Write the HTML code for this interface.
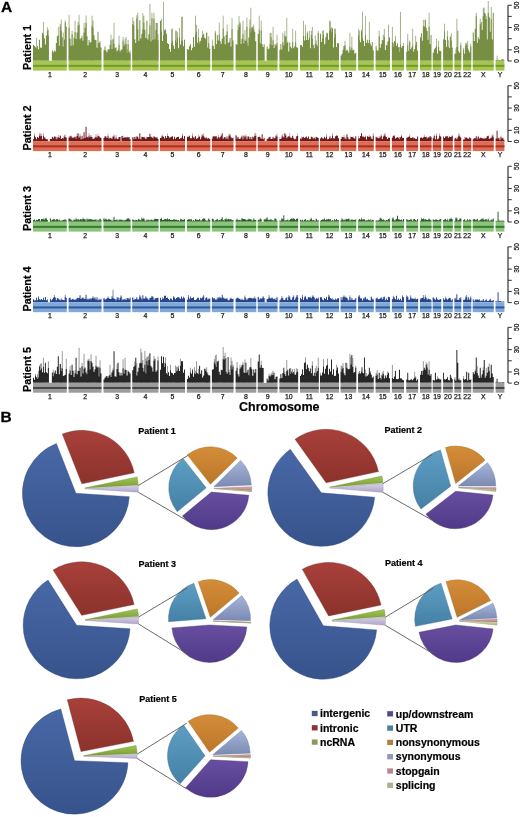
<!DOCTYPE html><html><head><meta charset="utf-8"><title>Figure</title><style>
html,body{margin:0;padding:0;background:#fff;overflow:hidden;width:520px;height:817px;}
svg{display:block;filter:blur(0.4px);}
text{font-family:"Liberation Sans",sans-serif;}
.cl{font-size:6.9px;text-anchor:middle;fill:#1a1a1a;stroke:#1a1a1a;stroke-width:0.25px;}
.al{font-size:6.6px;text-anchor:middle;fill:#1a1a1a;stroke:#1a1a1a;stroke-width:0.25px;}
.pl{font-size:10.8px;font-weight:bold;text-anchor:middle;fill:#000;stroke:#000;stroke-width:0.2px;}
.pt{font-size:9px;font-weight:bold;fill:#000;stroke:#000;stroke-width:0.2px;}
.lg{font-size:10.5px;font-weight:bold;fill:#000;stroke:#000;stroke-width:0.2px;}
.big{font-size:15.5px;font-weight:bold;fill:#000;stroke:#000;stroke-width:0.3px;}
.xl{font-size:12.5px;font-weight:bold;fill:#000;text-anchor:middle;stroke:#000;stroke-width:0.2px;}
</style></head><body>
<svg width="520" height="817" viewBox="0 0 520 817">
<rect width="520" height="817" fill="#fff"/>
<defs><linearGradient id="g_blue" x1="0" y1="0" x2="0" y2="1"><stop offset="0" stop-color="#4868a6"/><stop offset="1" stop-color="#37538c"/></linearGradient><linearGradient id="g_red" x1="0" y1="0" x2="0" y2="1"><stop offset="0" stop-color="#a8403a"/><stop offset="1" stop-color="#8c322c"/></linearGradient><linearGradient id="g_green" x1="0" y1="0" x2="0" y2="1"><stop offset="0" stop-color="#a0c455"/><stop offset="1" stop-color="#7c9c35"/></linearGradient><linearGradient id="g_lav" x1="0" y1="0" x2="0" y2="1"><stop offset="0" stop-color="#d6d0e6"/><stop offset="1" stop-color="#aea6c6"/></linearGradient><linearGradient id="g_purple" x1="0" y1="0" x2="0" y2="1"><stop offset="0" stop-color="#684ea0"/><stop offset="1" stop-color="#503a88"/></linearGradient><linearGradient id="g_teal" x1="0" y1="0" x2="0" y2="1"><stop offset="0" stop-color="#5e9ec4"/><stop offset="1" stop-color="#4580a6"/></linearGradient><linearGradient id="g_orange" x1="0" y1="0" x2="0" y2="1"><stop offset="0" stop-color="#d48d38"/><stop offset="1" stop-color="#bb762a"/></linearGradient><linearGradient id="g_syn" x1="0" y1="0" x2="0" y2="1"><stop offset="0" stop-color="#a6b4da"/><stop offset="1" stop-color="#7b8ab2"/></linearGradient><linearGradient id="g_stop" x1="0" y1="0" x2="0" y2="1"><stop offset="0" stop-color="#d8b0b0"/><stop offset="1" stop-color="#b08080"/></linearGradient><linearGradient id="g_splice" x1="0" y1="0" x2="0" y2="1"><stop offset="0" stop-color="#dde2b0"/><stop offset="1" stop-color="#aab084"/></linearGradient></defs>
<text x="0.9" y="12.1" class="big">A</text>
<path d="M35.98 38.00h0.99v22.70h-0.99zM42.93 21.70h0.99v39.00h-0.99zM46.90 27.36h0.99v33.34h-0.99zM47.89 29.85h0.99v30.85h-0.99zM57.82 26.70h0.99v34.00h-0.99zM59.80 23.78h0.99v36.92h-0.99zM60.79 19.44h0.99v41.26h-0.99zM62.78 32.55h0.99v28.15h-0.99zM64.76 20.57h0.99v40.13h-0.99zM68.60 14.78h1.00v45.92h-1.00zM71.59 30.70h1.00v30.00h-1.00zM74.58 20.70h1.00v40.00h-1.00zM77.57 22.08h1.00v38.62h-1.00zM78.57 14.70h1.00v46.00h-1.00zM83.55 22.70h1.00v38.00h-1.00zM85.55 15.56h1.00v45.14h-1.00zM91.53 15.68h1.00v45.02h-1.00zM92.53 20.70h1.00v40.00h-1.00zM110.53 34.75h1.00v25.95h-1.00zM112.53 38.41h1.00v22.29h-1.00zM113.54 22.70h1.00v38.00h-1.00zM118.56 35.70h1.00v25.00h-1.00zM122.57 37.02h1.00v23.68h-1.00zM124.58 38.70h1.00v22.00h-1.00zM125.58 36.64h1.00v24.06h-1.00zM126.59 49.21h1.00v11.49h-1.00zM127.59 39.86h1.00v20.84h-1.00zM129.60 50.48h1.00v10.22h-1.00zM132.25 17.14h1.01v43.56h-1.01zM133.26 21.07h1.01v39.63h-1.01zM136.29 15.21h1.01v45.49h-1.01zM137.30 12.70h1.01v48.00h-1.01zM142.35 13.34h1.01v47.36h-1.01zM143.36 15.70h1.01v45.00h-1.01zM149.41 3.70h1.01v57.00h-1.01zM151.43 12.70h1.01v48.00h-1.01zM153.45 12.70h1.01v48.00h-1.01zM155.47 22.70h1.01v38.00h-1.01zM156.48 22.94h1.01v37.76h-1.01zM157.49 33.76h1.01v26.94h-1.01zM161.00 18.70h1.00v42.00h-1.00zM163.00 1.70h1.00v59.00h-1.00zM164.00 29.63h1.00v31.07h-1.00zM165.00 29.09h1.00v31.61h-1.00zM166.00 33.22h1.00v27.48h-1.00zM171.00 28.70h1.00v32.00h-1.00zM172.00 28.70h1.00v32.00h-1.00zM175.00 30.70h1.00v30.00h-1.00zM176.00 30.70h1.00v30.00h-1.00zM177.00 32.22h1.00v28.48h-1.00zM179.00 27.92h1.00v32.78h-1.00zM181.00 16.70h1.00v44.00h-1.00zM182.00 16.70h1.00v44.00h-1.00zM195.02 15.70h1.02v45.00h-1.02zM196.04 24.83h1.02v35.87h-1.02zM198.07 28.70h1.02v32.00h-1.02zM199.08 41.60h1.02v19.10h-1.02zM202.13 30.70h1.02v30.00h-1.02zM206.19 32.50h1.02v28.20h-1.02zM208.22 36.35h1.02v24.35h-1.02zM211.90 39.44h0.98v21.26h-0.98zM214.85 30.70h0.98v30.00h-0.98zM218.77 22.70h0.98v38.00h-0.98zM222.70 15.70h0.98v45.00h-0.98zM226.63 24.70h0.98v36.00h-0.98zM231.54 17.93h0.98v42.77h-0.98zM237.57 24.84h0.98v35.86h-0.98zM238.55 16.05h0.98v44.65h-0.98zM239.53 22.26h0.98v38.44h-0.98zM242.48 20.70h0.98v40.00h-0.98zM244.45 29.96h0.98v30.74h-0.98zM246.42 17.38h0.98v43.32h-0.98zM247.40 43.02h0.98v17.68h-0.98zM249.37 19.42h0.98v41.28h-0.98zM250.35 7.70h0.98v53.00h-0.98zM251.33 27.10h0.98v33.60h-0.98zM252.32 26.46h0.98v34.24h-0.98zM253.30 24.53h0.98v36.17h-0.98zM258.74 15.70h0.99v45.00h-0.99zM260.71 20.70h0.99v40.00h-0.99zM269.60 32.70h0.99v28.00h-0.99zM270.59 33.03h0.99v27.67h-0.99zM272.56 26.70h0.99v34.00h-0.99zM276.51 34.85h0.99v25.85h-0.99zM282.35 32.70h0.98v28.00h-0.98zM284.32 31.05h0.98v29.65h-0.98zM285.31 36.30h0.98v24.40h-0.98zM286.29 17.70h0.98v43.00h-0.98zM292.19 28.70h0.98v32.00h-0.98zM295.15 30.70h0.98v30.00h-0.98zM302.96 20.70h0.99v40.00h-0.99zM304.93 24.70h0.99v36.00h-0.99zM306.91 31.59h0.99v29.11h-0.99zM308.88 30.70h0.99v30.00h-0.99zM310.86 31.11h0.99v29.59h-0.99zM311.84 26.70h0.99v34.00h-0.99zM314.80 35.16h0.99v25.54h-0.99zM315.79 40.58h0.99v20.12h-0.99zM317.76 31.01h0.99v29.69h-0.99zM322.00 30.70h1.00v30.00h-1.00zM323.00 30.35h1.00v30.35h-1.00zM325.00 37.31h1.00v23.39h-1.00zM326.00 32.70h1.00v28.00h-1.00zM327.00 32.70h1.00v28.00h-1.00zM329.00 20.59h1.00v40.11h-1.00zM330.00 21.19h1.00v39.51h-1.00zM331.00 27.27h1.00v33.43h-1.00zM334.00 28.70h1.00v32.00h-1.00zM335.00 28.70h1.00v32.00h-1.00zM343.53 46.00h0.98v14.70h-0.98zM344.51 40.70h0.98v20.00h-0.98zM349.40 32.70h0.98v28.00h-0.98zM351.36 36.70h0.98v24.00h-0.98zM358.10 28.80h0.98v31.90h-0.98zM359.08 30.70h0.98v30.00h-0.98zM361.03 29.76h0.98v30.94h-0.98zM362.01 11.70h0.98v49.00h-0.98zM364.95 15.70h0.98v45.00h-0.98zM368.86 21.70h0.98v39.00h-0.98zM378.69 30.70h1.03v30.00h-1.03zM382.80 34.70h1.03v26.00h-1.03zM383.83 28.81h1.03v31.89h-1.03zM386.91 41.77h1.03v18.93h-1.03zM387.94 24.70h1.03v36.00h-1.03zM391.90 26.70h1.01v34.00h-1.01zM392.91 43.20h1.01v17.50h-1.01zM394.92 35.70h1.01v25.00h-1.01zM398.96 47.08h1.01v13.62h-1.01zM399.97 11.70h1.01v49.00h-1.01zM402.99 42.98h1.01v17.72h-1.01zM407.24 33.70h0.99v27.00h-0.99zM409.21 40.46h0.99v20.24h-0.99zM412.18 28.70h0.99v32.00h-0.99zM415.14 35.70h0.99v25.00h-0.99zM422.88 19.70h0.96v41.00h-0.96zM424.79 19.42h0.96v41.28h-0.96zM428.62 12.70h0.96v48.00h-0.96zM435.94 38.70h1.06v22.00h-1.06zM438.06 40.70h1.06v20.00h-1.06zM444.06 23.70h0.96v37.00h-0.96zM446.96 30.70h0.96v30.00h-0.96zM447.93 40.27h0.96v20.43h-0.96zM449.86 36.33h0.96v24.37h-0.96zM450.82 32.93h0.96v27.77h-0.96zM455.38 48.60h0.98v12.10h-0.98zM456.36 18.70h0.98v42.00h-0.98zM460.27 42.51h0.98v18.19h-0.98zM463.10 47.74h1.02v12.96h-1.02zM465.14 42.70h1.02v18.00h-1.02zM466.16 43.25h1.02v17.45h-1.02zM467.18 40.70h1.02v20.00h-1.02zM470.23 43.84h1.02v16.86h-1.02zM475.75 12.70h1.00v48.00h-1.00zM479.75 18.70h1.00v42.00h-1.00zM482.75 7.70h1.00v53.00h-1.00zM483.75 7.70h1.00v53.00h-1.00zM485.75 15.70h1.00v45.00h-1.00zM487.75 0.97h1.00v59.73h-1.00zM488.75 16.70h1.00v44.00h-1.00zM490.75 6.70h1.00v54.00h-1.00zM496.58 55.70h0.98v5.00h-0.98zM501.47 58.99h0.98v1.71h-0.98zM502.44 59.04h0.98v1.66h-0.98z" fill="#a8b48e"/>
<path d="M33.00 44.97h0.99v15.73h-0.99zM33.99 45.93h0.99v14.77h-0.99zM34.99 47.22h0.99v13.48h-0.99zM35.98 48.25h0.99v12.45h-0.99zM36.97 45.91h0.99v14.79h-0.99zM37.96 49.30h0.99v11.40h-0.99zM38.96 39.82h0.99v20.88h-0.99zM39.95 47.42h0.99v13.28h-0.99zM40.94 47.85h0.99v12.85h-0.99zM41.93 32.70h0.99v28.00h-0.99zM42.93 34.86h0.99v25.84h-0.99zM43.92 38.20h0.99v22.50h-0.99zM44.91 44.45h0.99v16.25h-0.99zM45.90 35.58h0.99v25.12h-0.99zM46.90 30.87h0.99v29.83h-0.99zM47.89 35.59h0.99v25.11h-0.99zM51.86 50.46h0.99v10.24h-0.99zM52.85 52.18h0.99v8.52h-0.99zM53.85 50.45h0.99v10.25h-0.99zM54.84 51.40h0.99v9.30h-0.99zM55.83 43.02h0.99v17.68h-0.99zM56.82 36.16h0.99v24.54h-0.99zM57.82 35.36h0.99v25.34h-0.99zM58.81 45.82h0.99v14.88h-0.99zM59.80 26.35h0.99v34.35h-0.99zM60.79 30.70h0.99v30.00h-0.99zM61.79 37.28h0.99v23.42h-0.99zM62.78 46.50h0.99v14.20h-0.99zM63.77 39.57h0.99v21.13h-0.99zM64.76 22.44h0.99v38.26h-0.99zM65.76 26.69h0.99v34.01h-0.99zM68.60 27.68h1.00v33.02h-1.00zM69.60 38.87h1.00v21.83h-1.00zM70.59 45.70h1.00v15.00h-1.00zM71.59 34.36h1.00v26.34h-1.00zM72.59 45.13h1.00v15.57h-1.00zM73.58 37.78h1.00v22.92h-1.00zM74.58 31.91h1.00v28.79h-1.00zM75.58 39.08h1.00v21.62h-1.00zM76.58 32.51h1.00v28.19h-1.00zM77.57 25.86h1.00v34.84h-1.00zM78.57 24.70h1.00v36.00h-1.00zM79.57 39.35h1.00v21.35h-1.00zM80.56 37.96h1.00v22.74h-1.00zM81.56 35.83h1.00v24.87h-1.00zM82.56 40.77h1.00v19.93h-1.00zM83.55 32.51h1.00v28.19h-1.00zM84.55 27.70h1.00v33.00h-1.00zM85.55 22.85h1.00v37.85h-1.00zM86.55 36.21h1.00v24.49h-1.00zM87.54 45.60h1.00v15.10h-1.00zM88.54 39.91h1.00v20.79h-1.00zM89.54 42.41h1.00v18.29h-1.00zM90.53 42.05h1.00v18.65h-1.00zM91.53 25.82h1.00v34.88h-1.00zM92.53 27.62h1.00v33.08h-1.00zM93.52 35.36h1.00v25.34h-1.00zM94.52 39.82h1.00v20.88h-1.00zM95.52 40.13h1.00v20.57h-1.00zM96.52 47.83h1.00v12.87h-1.00zM97.51 31.70h1.00v29.00h-1.00zM98.51 42.89h1.00v17.81h-1.00zM99.51 41.29h1.00v19.41h-1.00zM100.50 47.51h1.00v13.19h-1.00zM103.50 49.97h1.00v10.73h-1.00zM104.50 46.54h1.00v14.16h-1.00zM105.51 50.62h1.00v10.08h-1.00zM106.51 52.16h1.00v8.54h-1.00zM107.51 49.15h1.00v11.55h-1.00zM108.52 49.41h1.00v11.29h-1.00zM109.52 44.68h1.00v16.02h-1.00zM110.53 40.15h1.00v20.55h-1.00zM111.53 48.97h1.00v11.73h-1.00zM112.53 39.73h1.00v20.97h-1.00zM113.54 43.92h1.00v16.78h-1.00zM114.54 48.29h1.00v12.41h-1.00zM115.54 47.17h1.00v13.53h-1.00zM116.55 51.32h1.00v9.38h-1.00zM117.55 49.85h1.00v10.85h-1.00zM118.56 44.72h1.00v15.98h-1.00zM119.56 51.53h1.00v9.17h-1.00zM120.56 49.76h1.00v10.94h-1.00zM121.57 49.44h1.00v11.26h-1.00zM122.57 40.72h1.00v19.98h-1.00zM123.57 45.67h1.00v15.03h-1.00zM124.58 43.67h1.00v17.03h-1.00zM125.58 44.12h1.00v16.58h-1.00zM126.59 52.96h1.00v7.74h-1.00zM127.59 44.32h1.00v16.38h-1.00zM128.59 51.66h1.00v9.04h-1.00zM129.60 53.55h1.00v7.15h-1.00zM132.25 23.90h1.01v36.80h-1.01zM133.26 25.29h1.01v35.41h-1.01zM134.27 39.31h1.01v21.39h-1.01zM135.28 42.89h1.01v17.81h-1.01zM136.29 18.56h1.01v42.14h-1.01zM137.30 29.34h1.01v31.36h-1.01zM138.31 40.77h1.01v19.93h-1.01zM139.32 20.32h1.01v40.38h-1.01zM140.33 38.59h1.01v22.11h-1.01zM141.34 34.07h1.01v26.63h-1.01zM142.35 29.51h1.01v31.19h-1.01zM143.36 22.42h1.01v38.28h-1.01zM144.37 29.77h1.01v30.93h-1.01zM145.38 37.91h1.01v22.79h-1.01zM146.38 20.70h1.01v40.00h-1.01zM147.39 39.55h1.01v21.15h-1.01zM148.40 34.13h1.01v26.57h-1.01zM149.41 25.15h1.01v35.55h-1.01zM150.42 41.61h1.01v19.09h-1.01zM151.43 18.22h1.01v42.48h-1.01zM152.44 39.80h1.01v20.90h-1.01zM153.45 18.74h1.01v41.96h-1.01zM154.46 39.21h1.01v21.49h-1.01zM155.47 30.32h1.01v30.38h-1.01zM156.48 23.01h1.01v37.69h-1.01zM157.49 40.36h1.01v20.34h-1.01zM160.00 20.65h1.00v40.05h-1.00zM161.00 31.55h1.00v29.15h-1.00zM162.00 40.91h1.00v19.79h-1.00zM163.00 34.93h1.00v25.77h-1.00zM164.00 30.77h1.00v29.93h-1.00zM165.00 30.15h1.00v30.55h-1.00zM166.00 34.57h1.00v26.13h-1.00zM167.00 43.26h1.00v17.44h-1.00zM168.00 44.05h1.00v16.65h-1.00zM169.00 48.94h1.00v11.76h-1.00zM170.00 51.68h1.00v9.02h-1.00zM171.00 43.06h1.00v17.64h-1.00zM172.00 40.75h1.00v19.95h-1.00zM173.00 45.52h1.00v15.18h-1.00zM174.00 48.69h1.00v12.01h-1.00zM175.00 40.57h1.00v20.13h-1.00zM176.00 42.85h1.00v17.85h-1.00zM177.00 37.92h1.00v22.78h-1.00zM178.00 48.19h1.00v12.51h-1.00zM179.00 37.41h1.00v23.29h-1.00zM180.00 44.48h1.00v16.22h-1.00zM181.00 40.64h1.00v20.06h-1.00zM182.00 40.64h1.00v20.06h-1.00zM183.00 46.25h1.00v14.45h-1.00zM184.00 39.66h1.00v21.04h-1.00zM186.90 49.04h1.02v11.66h-1.02zM187.92 49.67h1.02v11.03h-1.02zM188.93 46.25h1.02v14.45h-1.02zM189.95 44.16h1.02v16.54h-1.02zM190.96 50.16h1.02v10.54h-1.02zM191.98 47.80h1.02v12.90h-1.02zM192.99 36.90h1.02v23.80h-1.02zM194.01 46.77h1.02v13.93h-1.02zM195.02 34.49h1.02v26.21h-1.02zM196.04 31.96h1.02v28.74h-1.02zM197.05 42.67h1.02v18.03h-1.02zM198.07 37.47h1.02v23.23h-1.02zM199.08 43.73h1.02v16.97h-1.02zM200.10 40.76h1.02v19.94h-1.02zM201.11 37.75h1.02v22.95h-1.02zM202.13 35.26h1.02v25.44h-1.02zM203.14 33.74h1.02v26.96h-1.02zM204.16 37.87h1.02v22.83h-1.02zM205.17 38.68h1.02v22.02h-1.02zM206.19 32.70h1.02v28.00h-1.02zM207.20 47.61h1.02v13.09h-1.02zM208.22 43.26h1.02v17.44h-1.02zM209.23 48.69h1.02v12.01h-1.02zM211.90 45.71h0.98v14.99h-0.98zM212.88 45.78h0.98v14.92h-0.98zM213.86 49.01h0.98v11.69h-0.98zM214.85 32.75h0.98v27.95h-0.98zM215.83 44.30h0.98v16.40h-0.98zM216.81 35.05h0.98v25.65h-0.98zM217.79 40.61h0.98v20.09h-0.98zM218.77 34.59h0.98v26.11h-0.98zM219.75 41.17h0.98v19.53h-0.98zM220.74 43.79h0.98v16.91h-0.98zM221.72 38.79h0.98v21.91h-0.98zM222.70 28.59h0.98v32.11h-0.98zM223.68 36.51h0.98v24.19h-0.98zM224.66 44.30h0.98v16.40h-0.98zM225.65 35.01h0.98v25.69h-0.98zM226.63 31.52h0.98v29.18h-0.98zM227.61 42.90h0.98v17.80h-0.98zM228.59 42.00h0.98v18.70h-0.98zM229.57 38.01h0.98v22.69h-0.98zM230.55 46.44h0.98v14.26h-0.98zM231.54 29.02h0.98v31.68h-0.98zM232.52 40.53h0.98v20.17h-0.98zM235.60 43.91h0.98v16.79h-0.98zM236.58 44.77h0.98v15.93h-0.98zM237.57 30.15h0.98v30.55h-0.98zM238.55 27.12h0.98v33.58h-0.98zM239.53 23.83h0.98v36.87h-0.98zM240.52 44.03h0.98v16.67h-0.98zM241.50 38.64h0.98v22.06h-0.98zM242.48 33.70h0.98v27.00h-0.98zM243.47 43.28h0.98v17.42h-0.98zM244.45 39.50h0.98v21.20h-0.98zM245.43 40.98h0.98v19.72h-0.98zM246.42 26.66h0.98v34.04h-0.98zM247.40 46.10h0.98v14.60h-0.98zM248.38 37.61h0.98v23.09h-0.98zM249.37 28.31h0.98v32.39h-0.98zM250.35 32.29h0.98v28.41h-0.98zM251.33 28.71h0.98v31.99h-0.98zM252.32 27.51h0.98v33.19h-0.98zM253.30 29.74h0.98v30.96h-0.98zM254.28 31.67h0.98v29.03h-0.98zM255.27 41.19h0.98v19.51h-0.98zM257.75 34.01h0.99v26.69h-0.99zM258.74 29.81h0.99v30.89h-0.99zM259.73 43.32h0.99v17.38h-0.99zM260.71 30.87h0.99v29.83h-0.99zM261.70 44.15h0.99v16.55h-0.99zM262.69 47.03h0.99v13.67h-0.99zM263.68 44.32h0.99v16.38h-0.99zM266.64 46.57h0.99v14.13h-0.99zM267.62 49.24h0.99v11.46h-0.99zM268.61 48.58h0.99v12.12h-0.99zM269.60 44.20h0.99v16.50h-0.99zM270.59 37.40h0.99v23.30h-0.99zM271.57 44.98h0.99v15.72h-0.99zM272.56 40.24h0.99v20.46h-0.99zM273.55 47.93h0.99v12.77h-0.99zM274.54 44.01h0.99v16.69h-0.99zM275.52 45.42h0.99v15.28h-0.99zM276.51 43.31h0.99v17.39h-0.99zM279.40 49.72h0.98v10.98h-0.98zM280.38 44.03h0.98v16.67h-0.98zM281.37 49.39h0.98v11.31h-0.98zM282.35 41.97h0.98v18.73h-0.98zM283.34 45.25h0.98v15.45h-0.98zM284.32 35.54h0.98v25.16h-0.98zM285.31 37.21h0.98v23.49h-0.98zM286.29 42.91h0.98v17.79h-0.98zM287.27 41.78h0.98v18.92h-0.98zM288.26 51.62h0.98v9.08h-0.98zM289.24 42.60h0.98v18.10h-0.98zM290.23 46.70h0.98v14.00h-0.98zM291.21 48.28h0.98v12.42h-0.98zM292.19 42.03h0.98v18.67h-0.98zM293.18 48.18h0.98v12.52h-0.98zM294.16 46.35h0.98v14.35h-0.98zM295.15 42.19h0.98v18.51h-0.98zM296.13 47.27h0.98v13.43h-0.98zM297.12 47.69h0.98v13.01h-0.98zM300.00 44.89h0.99v15.81h-0.99zM300.99 45.37h0.99v15.33h-0.99zM301.97 46.72h0.99v13.98h-0.99zM302.96 35.91h0.99v24.79h-0.99zM303.95 40.42h0.99v20.28h-0.99zM304.93 35.69h0.99v25.01h-0.99zM305.92 40.06h0.99v20.64h-0.99zM306.91 33.31h0.99v27.39h-0.99zM307.89 39.91h0.99v20.79h-0.99zM308.88 37.47h0.99v23.23h-0.99zM309.87 48.14h0.99v12.56h-0.99zM310.86 35.09h0.99v25.61h-0.99zM311.84 38.80h0.99v21.90h-0.99zM312.83 45.09h0.99v15.61h-0.99zM313.82 48.29h0.99v12.41h-0.99zM314.80 44.11h0.99v16.59h-0.99zM315.79 44.41h0.99v16.29h-0.99zM316.78 45.83h0.99v14.87h-0.99zM317.76 33.08h0.99v27.62h-0.99zM320.00 33.72h1.00v26.98h-1.00zM321.00 42.12h1.00v18.58h-1.00zM322.00 38.47h1.00v22.23h-1.00zM323.00 34.59h1.00v26.11h-1.00zM324.00 44.26h1.00v16.44h-1.00zM325.00 43.44h1.00v17.26h-1.00zM326.00 36.69h1.00v24.01h-1.00zM327.00 33.81h1.00v26.89h-1.00zM328.00 39.80h1.00v20.90h-1.00zM329.00 30.68h1.00v30.02h-1.00zM330.00 28.68h1.00v32.02h-1.00zM331.00 32.32h1.00v28.38h-1.00zM332.00 28.18h1.00v32.52h-1.00zM333.00 47.49h1.00v13.21h-1.00zM334.00 37.58h1.00v23.12h-1.00zM335.00 33.91h1.00v26.79h-1.00zM336.00 46.98h1.00v13.72h-1.00zM337.00 43.24h1.00v17.46h-1.00zM338.00 43.17h1.00v17.53h-1.00zM340.60 55.43h0.98v5.27h-0.98zM341.58 53.81h0.98v6.89h-0.98zM342.56 49.73h0.98v10.97h-0.98zM343.53 46.31h0.98v14.39h-0.98zM344.51 45.23h0.98v15.47h-0.98zM345.49 50.78h0.98v9.92h-0.98zM346.47 49.43h0.98v11.27h-0.98zM347.45 50.82h0.98v9.88h-0.98zM348.43 52.98h0.98v7.72h-0.98zM349.40 46.71h0.98v13.99h-0.98zM350.38 50.15h0.98v10.55h-0.98zM351.36 47.76h0.98v12.94h-0.98zM352.34 50.18h0.98v10.52h-0.98zM353.32 49.84h0.98v10.86h-0.98zM354.29 53.76h0.98v6.94h-0.98zM355.27 52.78h0.98v7.92h-0.98zM358.10 35.25h0.98v25.45h-0.98zM359.08 40.30h0.98v20.40h-0.98zM360.06 42.14h0.98v18.56h-0.98zM361.03 31.18h0.98v29.52h-0.98zM362.01 38.13h0.98v22.57h-0.98zM362.99 40.76h0.98v19.94h-0.98zM363.97 46.05h0.98v14.65h-0.98zM364.95 35.27h0.98v25.43h-0.98zM365.93 42.78h0.98v17.92h-0.98zM366.90 39.70h0.98v21.00h-0.98zM367.88 42.95h0.98v17.75h-0.98zM368.86 39.91h0.98v20.79h-0.98zM369.84 43.55h0.98v17.15h-0.98zM370.82 45.67h0.98v15.03h-0.98zM371.79 42.10h0.98v18.60h-0.98zM372.77 50.18h0.98v10.52h-0.98zM375.60 46.07h1.03v14.63h-1.03zM376.63 50.34h1.03v10.36h-1.03zM377.66 50.60h1.03v10.10h-1.03zM378.69 36.52h1.03v24.18h-1.03zM379.71 47.64h1.03v13.06h-1.03zM380.74 44.09h1.03v16.61h-1.03zM381.77 40.06h1.03v20.64h-1.03zM382.80 40.41h1.03v20.29h-1.03zM383.83 37.11h1.03v23.59h-1.03zM384.86 50.08h1.03v10.62h-1.03zM385.89 45.11h1.03v15.59h-1.03zM386.91 45.52h1.03v15.18h-1.03zM387.94 41.01h1.03v19.69h-1.03zM388.97 37.48h1.03v23.22h-1.03zM391.90 42.25h1.01v18.45h-1.01zM392.91 46.74h1.01v13.96h-1.01zM393.92 41.11h1.01v19.59h-1.01zM394.92 41.96h1.01v18.74h-1.01zM395.93 45.75h1.01v14.95h-1.01zM396.94 43.19h1.01v17.51h-1.01zM397.95 47.36h1.01v13.34h-1.01zM398.96 52.10h1.01v8.60h-1.01zM399.97 44.73h1.01v15.97h-1.01zM400.98 47.56h1.01v13.14h-1.01zM401.98 45.95h1.01v14.75h-1.01zM402.99 46.33h1.01v14.37h-1.01zM406.25 51.65h0.99v9.05h-0.99zM407.24 44.80h0.99v15.90h-0.99zM408.23 50.68h0.99v10.02h-0.99zM409.21 42.07h0.99v18.63h-0.99zM410.20 49.20h0.99v11.50h-0.99zM411.19 47.62h0.99v13.08h-0.99zM412.18 45.65h0.99v15.05h-0.99zM413.16 51.46h0.99v9.24h-0.99zM414.15 48.97h0.99v11.73h-0.99zM415.14 45.26h0.99v15.44h-0.99zM416.12 41.67h0.99v19.03h-0.99zM417.11 50.69h0.99v10.01h-0.99zM420.00 37.17h0.96v23.53h-0.96zM420.96 33.32h0.96v27.38h-0.96zM421.92 40.69h0.96v20.01h-0.96zM422.88 26.25h0.96v34.45h-0.96zM423.83 26.42h0.96v34.28h-0.96zM424.79 19.95h0.96v40.75h-0.96zM425.75 27.70h0.96v33.00h-0.96zM426.71 30.99h0.96v29.71h-0.96zM427.67 39.86h0.96v20.84h-0.96zM428.62 26.70h0.96v34.00h-0.96zM429.58 44.35h0.96v16.35h-0.96zM430.54 35.03h0.96v25.67h-0.96zM432.75 52.82h1.06v7.88h-1.06zM433.81 49.22h1.06v11.48h-1.06zM434.88 47.68h1.06v13.02h-1.06zM435.94 46.05h1.06v14.65h-1.06zM437.00 53.39h1.06v7.31h-1.06zM438.06 46.71h1.06v13.99h-1.06zM439.12 50.67h1.06v10.03h-1.06zM440.19 50.97h1.06v9.73h-1.06zM443.10 39.36h0.96v21.34h-0.96zM444.06 31.50h0.96v29.20h-0.96zM445.03 40.03h0.96v20.67h-0.96zM446.00 46.76h0.96v13.94h-0.96zM446.96 36.57h0.96v24.13h-0.96zM447.93 46.52h0.96v14.18h-0.96zM448.89 48.09h0.96v12.61h-0.96zM449.86 37.20h0.96v23.50h-0.96zM450.82 40.70h0.96v20.00h-0.96zM451.79 47.61h0.96v13.09h-0.96zM454.40 53.77h0.98v6.93h-0.98zM455.38 53.53h0.98v7.17h-0.98zM456.36 47.12h0.98v13.58h-0.98zM457.34 30.70h0.98v30.00h-0.98zM458.31 51.23h0.98v9.47h-0.98zM459.29 53.01h0.98v7.69h-0.98zM460.27 45.28h0.98v15.42h-0.98zM463.10 50.12h1.02v10.58h-1.02zM464.12 53.79h1.02v6.91h-1.02zM465.14 45.79h1.02v14.91h-1.02zM466.16 44.72h1.02v15.98h-1.02zM467.18 48.16h1.02v12.54h-1.02zM468.19 50.31h1.02v10.39h-1.02zM469.21 52.49h1.02v8.21h-1.02zM470.23 46.52h1.02v14.18h-1.02zM472.75 32.46h1.00v28.24h-1.00zM473.75 40.93h1.00v19.77h-1.00zM474.75 28.79h1.00v31.91h-1.00zM475.75 16.23h1.00v44.47h-1.00zM476.75 42.83h1.00v17.87h-1.00zM477.75 37.21h1.00v23.49h-1.00zM478.75 39.15h1.00v21.55h-1.00zM479.75 24.19h1.00v36.51h-1.00zM480.75 21.91h1.00v38.79h-1.00zM481.75 29.92h1.00v30.78h-1.00zM482.75 16.24h1.00v44.46h-1.00zM483.75 12.70h1.00v48.00h-1.00zM484.75 13.52h1.00v47.18h-1.00zM485.75 19.06h1.00v41.64h-1.00zM486.75 39.61h1.00v21.09h-1.00zM487.75 12.70h1.00v48.00h-1.00zM488.75 17.55h1.00v43.15h-1.00zM489.75 31.78h1.00v28.92h-1.00zM490.75 19.11h1.00v41.59h-1.00zM491.75 39.43h1.00v21.27h-1.00zM492.75 12.70h1.00v48.00h-1.00zM495.60 60.09h0.98v0.61h-0.98zM496.58 59.64h0.98v1.06h-0.98zM497.56 59.73h0.98v0.97h-0.98zM498.53 59.76h0.98v0.94h-0.98zM499.51 59.89h0.98v0.81h-0.98zM500.49 59.91h0.98v0.79h-0.98zM501.47 59.50h0.98v1.20h-0.98zM502.44 59.34h0.98v1.36h-0.98zM503.42 60.05h0.98v0.65h-0.98z" fill="#778f43"/>
<rect x="33.00" y="60.70" width="33.75" height="9.9" fill="#a6c653"/>
<rect x="33.00" y="64.85" width="33.75" height="2.0" fill="#789826"/>
<text x="49.88" y="76.80" class="cl">1</text>
<rect x="68.60" y="60.70" width="32.90" height="9.9" fill="#a6c653"/>
<rect x="68.60" y="64.85" width="32.90" height="2.0" fill="#789826"/>
<text x="85.05" y="76.80" class="cl">2</text>
<rect x="103.50" y="60.70" width="27.10" height="9.9" fill="#a6c653"/>
<rect x="103.50" y="64.85" width="27.10" height="2.0" fill="#789826"/>
<text x="117.05" y="76.80" class="cl">3</text>
<rect x="132.25" y="60.70" width="26.25" height="9.9" fill="#a6c653"/>
<rect x="132.25" y="64.85" width="26.25" height="2.0" fill="#789826"/>
<text x="145.38" y="76.80" class="cl">4</text>
<rect x="160.00" y="60.70" width="25.00" height="9.9" fill="#a6c653"/>
<rect x="160.00" y="64.85" width="25.00" height="2.0" fill="#789826"/>
<text x="172.50" y="76.80" class="cl">5</text>
<rect x="186.90" y="60.70" width="23.35" height="9.9" fill="#a6c653"/>
<rect x="186.90" y="64.85" width="23.35" height="2.0" fill="#789826"/>
<text x="198.57" y="76.80" class="cl">6</text>
<rect x="211.90" y="60.70" width="21.60" height="9.9" fill="#a6c653"/>
<rect x="211.90" y="64.85" width="21.60" height="2.0" fill="#789826"/>
<text x="222.70" y="76.80" class="cl">7</text>
<rect x="235.60" y="60.70" width="20.65" height="9.9" fill="#a6c653"/>
<rect x="235.60" y="64.85" width="20.65" height="2.0" fill="#789826"/>
<text x="245.93" y="76.80" class="cl">8</text>
<rect x="257.75" y="60.70" width="19.75" height="9.9" fill="#a6c653"/>
<rect x="257.75" y="64.85" width="19.75" height="2.0" fill="#789826"/>
<text x="267.62" y="76.80" class="cl">9</text>
<rect x="279.40" y="60.70" width="18.70" height="9.9" fill="#a6c653"/>
<rect x="279.40" y="64.85" width="18.70" height="2.0" fill="#789826"/>
<text x="288.75" y="76.80" class="cl">10</text>
<rect x="300.00" y="60.70" width="18.75" height="9.9" fill="#a6c653"/>
<rect x="300.00" y="64.85" width="18.75" height="2.0" fill="#789826"/>
<text x="309.38" y="76.80" class="cl">11</text>
<rect x="320.00" y="60.70" width="19.00" height="9.9" fill="#a6c653"/>
<rect x="320.00" y="64.85" width="19.00" height="2.0" fill="#789826"/>
<text x="329.50" y="76.80" class="cl">12</text>
<rect x="340.60" y="60.70" width="15.65" height="9.9" fill="#a6c653"/>
<rect x="340.60" y="64.85" width="15.65" height="2.0" fill="#789826"/>
<text x="348.43" y="76.80" class="cl">13</text>
<rect x="358.10" y="60.70" width="15.65" height="9.9" fill="#a6c653"/>
<rect x="358.10" y="64.85" width="15.65" height="2.0" fill="#789826"/>
<text x="365.93" y="76.80" class="cl">14</text>
<rect x="375.60" y="60.70" width="14.40" height="9.9" fill="#a6c653"/>
<rect x="375.60" y="64.85" width="14.40" height="2.0" fill="#789826"/>
<text x="382.80" y="76.80" class="cl">15</text>
<rect x="391.90" y="60.70" width="12.10" height="9.9" fill="#a6c653"/>
<rect x="391.90" y="64.85" width="12.10" height="2.0" fill="#789826"/>
<text x="397.95" y="76.80" class="cl">16</text>
<rect x="406.25" y="60.70" width="11.85" height="9.9" fill="#a6c653"/>
<rect x="406.25" y="64.85" width="11.85" height="2.0" fill="#789826"/>
<text x="412.18" y="76.80" class="cl">17</text>
<rect x="420.00" y="60.70" width="11.50" height="9.9" fill="#a6c653"/>
<rect x="420.00" y="64.85" width="11.50" height="2.0" fill="#789826"/>
<text x="425.75" y="76.80" class="cl">18</text>
<rect x="432.75" y="60.70" width="8.50" height="9.9" fill="#a6c653"/>
<rect x="432.75" y="64.85" width="8.50" height="2.0" fill="#789826"/>
<text x="437.00" y="76.80" class="cl">19</text>
<rect x="443.10" y="60.70" width="9.65" height="9.9" fill="#a6c653"/>
<rect x="443.10" y="64.85" width="9.65" height="2.0" fill="#789826"/>
<text x="447.93" y="76.80" class="cl">20</text>
<rect x="454.40" y="60.70" width="6.85" height="9.9" fill="#a6c653"/>
<rect x="454.40" y="64.85" width="6.85" height="2.0" fill="#789826"/>
<text x="457.82" y="76.80" class="cl">21</text>
<rect x="463.10" y="60.70" width="8.15" height="9.9" fill="#a6c653"/>
<rect x="463.10" y="64.85" width="8.15" height="2.0" fill="#789826"/>
<text x="467.18" y="76.80" class="cl">22</text>
<rect x="472.75" y="60.70" width="21.00" height="9.9" fill="#a6c653"/>
<rect x="472.75" y="64.85" width="21.00" height="2.0" fill="#789826"/>
<text x="483.25" y="76.80" class="cl">X</text>
<rect x="495.60" y="60.70" width="8.80" height="9.9" fill="#a6c653"/>
<rect x="495.60" y="64.85" width="8.80" height="2.0" fill="#789826"/>
<text x="500.00" y="76.80" class="cl">Y</text>
<path d="M508.0 5.25V61.00" stroke="#2a2a2a" stroke-width="1.15" fill="none"/>
<path d="M508.0 61.00h3.8M508.0 49.85h3.8M508.0 38.70h3.8M508.0 27.55h3.8M508.0 16.40h3.8M508.0 5.25h3.8" stroke="#333" stroke-width="1" fill="none"/>
<text transform="translate(519.0 61.00) rotate(-90)" class="al">0</text>
<text transform="translate(519.0 49.85) rotate(-90)" class="al">10</text>
<text transform="translate(519.0 27.55) rotate(-90)" class="al">30</text>
<text transform="translate(519.0 5.25) rotate(-90)" class="al">50</text>
<text transform="translate(30.8 47.40) rotate(-90)" class="pl">Patient 1</text>
<path d="M33.99 133.24h0.99v7.96h-0.99zM38.96 133.32h0.99v7.88h-0.99zM39.95 133.36h0.99v7.84h-0.99zM40.94 134.36h0.99v6.84h-0.99zM42.93 132.99h0.99v8.21h-0.99zM43.92 137.20h0.99v4.00h-0.99zM44.91 137.56h0.99v3.64h-0.99zM53.85 135.93h0.99v5.27h-0.99zM55.83 136.66h0.99v4.54h-0.99zM56.82 137.06h0.99v4.14h-0.99zM57.82 134.93h0.99v6.27h-0.99zM59.80 135.38h0.99v5.82h-0.99zM63.77 134.78h0.99v6.42h-0.99zM64.76 134.38h0.99v6.82h-0.99zM68.60 136.11h1.00v5.09h-1.00zM74.58 136.53h1.00v4.67h-1.00zM75.58 136.50h1.00v4.70h-1.00zM76.58 134.02h1.00v7.18h-1.00zM78.57 137.25h1.00v3.95h-1.00zM79.57 133.82h1.00v7.38h-1.00zM84.55 137.66h1.00v3.54h-1.00zM87.54 135.80h1.00v5.40h-1.00zM88.54 133.29h1.00v7.91h-1.00zM89.54 135.47h1.00v5.73h-1.00zM90.53 134.90h1.00v6.30h-1.00zM95.52 133.90h1.00v7.30h-1.00zM97.51 133.65h1.00v7.55h-1.00zM107.51 133.73h1.00v7.47h-1.00zM110.53 137.70h1.00v3.50h-1.00zM111.53 138.63h1.00v2.57h-1.00zM112.53 135.77h1.00v5.43h-1.00zM113.54 134.21h1.00v6.99h-1.00zM115.54 134.99h1.00v6.21h-1.00zM121.57 135.71h1.00v5.49h-1.00zM122.57 135.66h1.00v5.54h-1.00zM126.59 136.54h1.00v4.66h-1.00zM133.26 137.27h1.01v3.93h-1.01zM135.28 136.49h1.01v4.71h-1.01zM151.43 136.64h1.01v4.56h-1.01zM156.48 136.78h1.01v4.42h-1.01zM161.00 135.63h1.00v5.57h-1.00zM162.00 134.49h1.00v6.71h-1.00zM165.00 135.89h1.00v5.31h-1.00zM167.00 133.51h1.00v7.69h-1.00zM169.00 137.05h1.00v4.15h-1.00zM182.00 133.86h1.00v7.34h-1.00zM188.93 135.14h1.02v6.06h-1.02zM191.98 133.44h1.02v7.76h-1.02zM194.01 136.83h1.02v4.37h-1.02zM195.02 136.31h1.02v4.89h-1.02zM198.07 134.93h1.02v6.27h-1.02zM201.11 134.81h1.02v6.39h-1.02zM202.13 133.98h1.02v7.22h-1.02zM203.14 133.39h1.02v7.81h-1.02zM205.17 137.48h1.02v3.72h-1.02zM211.90 136.40h0.98v4.80h-0.98zM212.88 135.64h0.98v5.56h-0.98zM217.79 134.70h0.98v6.50h-0.98zM218.77 137.42h0.98v3.78h-0.98zM219.75 136.80h0.98v4.40h-0.98zM220.74 135.29h0.98v5.91h-0.98zM225.65 136.15h0.98v5.05h-0.98zM226.63 136.33h0.98v4.87h-0.98zM227.61 136.70h0.98v4.50h-0.98zM228.59 133.80h0.98v7.40h-0.98zM229.57 133.40h0.98v7.80h-0.98zM235.60 134.95h0.98v6.25h-0.98zM236.58 136.39h0.98v4.81h-0.98zM241.50 135.29h0.98v5.91h-0.98zM243.47 135.26h0.98v5.94h-0.98zM245.43 134.19h0.98v7.01h-0.98zM249.37 138.39h0.98v2.81h-0.98zM254.28 132.97h0.98v8.23h-0.98zM255.27 133.36h0.98v7.84h-0.98zM258.74 135.86h0.99v5.34h-0.99zM267.62 138.09h0.99v3.11h-0.99zM272.56 136.82h0.99v4.38h-0.99zM275.52 134.97h0.99v6.23h-0.99zM276.51 133.47h0.99v7.73h-0.99zM279.40 137.07h0.98v4.13h-0.98zM281.37 135.37h0.98v5.83h-0.98zM282.35 133.50h0.98v7.70h-0.98zM283.34 136.89h0.98v4.31h-0.98zM285.31 133.69h0.98v7.51h-0.98zM289.24 133.34h0.98v7.86h-0.98zM291.21 137.54h0.98v3.66h-0.98zM292.19 135.13h0.98v6.07h-0.98zM297.12 133.44h0.98v7.76h-0.98zM300.99 136.49h0.99v4.71h-0.99zM308.88 138.43h0.99v2.77h-0.99zM310.86 136.13h0.99v5.07h-0.99zM314.80 137.15h0.99v4.05h-0.99zM315.79 136.86h0.99v4.34h-0.99zM322.00 137.76h1.00v3.44h-1.00zM326.00 134.04h1.00v7.16h-1.00zM329.00 136.13h1.00v5.07h-1.00zM330.00 135.84h1.00v5.36h-1.00zM332.00 133.62h1.00v7.58h-1.00zM336.00 135.51h1.00v5.69h-1.00zM337.00 135.34h1.00v5.86h-1.00zM343.53 135.09h0.98v6.11h-0.98zM345.49 136.80h0.98v4.40h-0.98zM352.34 136.46h0.98v4.74h-0.98zM358.10 136.03h0.98v5.17h-0.98zM362.99 135.79h0.98v5.41h-0.98zM364.95 135.59h0.98v5.61h-0.98zM368.86 134.78h0.98v6.42h-0.98zM369.84 136.00h0.98v5.20h-0.98zM370.82 137.21h0.98v3.99h-0.98zM372.77 133.12h0.98v8.08h-0.98zM376.63 137.32h1.03v3.88h-1.03zM378.69 136.09h1.03v5.11h-1.03zM380.74 134.53h1.03v6.67h-1.03zM383.83 133.45h1.03v7.75h-1.03zM384.86 133.24h1.03v7.96h-1.03zM391.90 136.81h1.01v4.39h-1.01zM392.91 135.26h1.01v5.94h-1.01zM393.92 134.97h1.01v6.23h-1.01zM398.96 137.12h1.01v4.08h-1.01zM400.98 134.78h1.01v6.42h-1.01zM409.21 134.25h0.99v6.95h-0.99zM413.16 136.96h0.99v4.24h-0.99zM423.83 134.42h0.96v6.78h-0.96zM430.54 136.24h0.96v4.96h-0.96zM433.81 134.47h1.06v6.73h-1.06zM435.94 133.57h1.06v7.63h-1.06zM439.12 133.51h1.06v7.69h-1.06zM446.00 135.85h0.96v5.35h-0.96zM451.79 134.85h0.96v6.35h-0.96zM458.31 133.03h0.98v8.17h-0.98zM459.29 134.86h0.98v6.34h-0.98zM464.12 136.77h1.02v4.43h-1.02zM465.14 137.29h1.02v3.91h-1.02zM476.75 137.79h1.00v3.41h-1.00zM477.75 135.78h1.00v5.42h-1.00zM478.75 138.13h1.00v3.07h-1.00zM483.75 137.56h1.00v3.64h-1.00zM486.75 136.15h1.00v5.05h-1.00zM487.75 135.18h1.00v6.02h-1.00zM491.75 134.53h1.00v6.67h-1.00zM492.75 134.49h1.00v6.71h-1.00zM500.49 135.48h0.98v5.72h-0.98z" fill="#c0a4aa"/>
<path d="M33.00 139.21h0.99v1.99h-0.99zM33.99 135.67h0.99v5.53h-0.99zM34.99 137.30h0.99v3.90h-0.99zM35.98 139.24h0.99v1.96h-0.99zM36.97 137.08h0.99v4.12h-0.99zM37.96 137.77h0.99v3.43h-0.99zM38.96 135.83h0.99v5.37h-0.99zM39.95 136.25h0.99v4.95h-0.99zM40.94 136.10h0.99v5.10h-0.99zM41.93 139.29h0.99v1.91h-0.99zM42.93 135.69h0.99v5.51h-0.99zM43.92 137.65h0.99v3.55h-0.99zM44.91 138.81h0.99v2.39h-0.99zM45.90 139.27h0.99v1.93h-0.99zM46.90 139.33h0.99v1.87h-0.99zM49.88 139.02h0.99v2.18h-0.99zM50.87 139.05h0.99v2.15h-0.99zM51.86 136.86h0.99v4.34h-0.99zM52.85 138.13h0.99v3.07h-0.99zM53.85 136.75h0.99v4.45h-0.99zM54.84 136.86h0.99v4.34h-0.99zM55.83 139.20h0.99v2.00h-0.99zM56.82 138.60h0.99v2.60h-0.99zM57.82 137.53h0.99v3.67h-0.99zM58.81 137.78h0.99v3.42h-0.99zM59.80 135.75h0.99v5.45h-0.99zM60.79 138.95h0.99v2.25h-0.99zM61.79 137.95h0.99v3.25h-0.99zM62.78 138.57h0.99v2.63h-0.99zM63.77 136.46h0.99v4.74h-0.99zM64.76 137.17h0.99v4.03h-0.99zM65.76 137.46h0.99v3.74h-0.99zM68.60 137.84h1.00v3.36h-1.00zM69.60 136.48h1.00v4.72h-1.00zM70.59 135.78h1.00v5.42h-1.00zM71.59 137.45h1.00v3.75h-1.00zM72.59 137.77h1.00v3.43h-1.00zM73.58 137.47h1.00v3.73h-1.00zM74.58 137.01h1.00v4.19h-1.00zM75.58 138.74h1.00v2.46h-1.00zM76.58 136.08h1.00v5.12h-1.00zM77.57 133.20h1.00v8.00h-1.00zM78.57 137.87h1.00v3.33h-1.00zM79.57 136.15h1.00v5.05h-1.00zM80.56 139.18h1.00v2.02h-1.00zM81.56 135.72h1.00v5.48h-1.00zM82.56 138.85h1.00v2.35h-1.00zM83.55 132.20h1.00v9.00h-1.00zM84.55 138.09h1.00v3.11h-1.00zM85.55 126.70h1.00v14.50h-1.00zM86.55 137.01h1.00v4.19h-1.00zM87.54 137.80h1.00v3.40h-1.00zM88.54 136.43h1.00v4.77h-1.00zM89.54 137.40h1.00v3.80h-1.00zM90.53 136.64h1.00v4.56h-1.00zM91.53 136.89h1.00v4.31h-1.00zM92.53 139.06h1.00v2.14h-1.00zM93.52 138.52h1.00v2.68h-1.00zM94.52 137.49h1.00v3.71h-1.00zM95.52 136.71h1.00v4.49h-1.00zM96.52 137.65h1.00v3.55h-1.00zM97.51 135.90h1.00v5.30h-1.00zM98.51 136.35h1.00v4.85h-1.00zM99.51 137.17h1.00v4.03h-1.00zM100.50 137.94h1.00v3.26h-1.00zM103.50 138.07h1.00v3.13h-1.00zM104.50 136.21h1.00v4.99h-1.00zM105.51 136.60h1.00v4.60h-1.00zM106.51 137.95h1.00v3.25h-1.00zM107.51 136.31h1.00v4.89h-1.00zM108.52 138.54h1.00v2.66h-1.00zM109.52 137.86h1.00v3.34h-1.00zM110.53 138.24h1.00v2.96h-1.00zM111.53 139.06h1.00v2.14h-1.00zM112.53 136.78h1.00v4.42h-1.00zM113.54 136.46h1.00v4.74h-1.00zM114.54 138.91h1.00v2.29h-1.00zM115.54 137.69h1.00v3.51h-1.00zM116.55 139.09h1.00v2.11h-1.00zM117.55 138.72h1.00v2.48h-1.00zM118.56 137.03h1.00v4.17h-1.00zM119.56 137.02h1.00v4.18h-1.00zM121.57 136.01h1.00v5.19h-1.00zM122.57 138.05h1.00v3.15h-1.00zM123.57 137.76h1.00v3.44h-1.00zM124.58 137.11h1.00v4.09h-1.00zM125.58 137.84h1.00v3.36h-1.00zM126.59 137.37h1.00v3.83h-1.00zM127.59 137.61h1.00v3.59h-1.00zM128.59 137.06h1.00v4.14h-1.00zM129.60 139.34h1.00v1.86h-1.00zM132.25 137.35h1.01v3.85h-1.01zM133.26 139.17h1.01v2.03h-1.01zM134.27 136.95h1.01v4.25h-1.01zM135.28 139.00h1.01v2.20h-1.01zM136.29 136.54h1.01v4.66h-1.01zM137.30 136.63h1.01v4.57h-1.01zM138.31 138.66h1.01v2.54h-1.01zM139.32 133.20h1.01v8.00h-1.01zM140.33 139.16h1.01v2.04h-1.01zM141.34 136.72h1.01v4.48h-1.01zM142.35 137.01h1.01v4.19h-1.01zM143.36 137.28h1.01v3.92h-1.01zM144.37 137.44h1.01v3.76h-1.01zM145.38 138.94h1.01v2.26h-1.01zM146.38 137.29h1.01v3.91h-1.01zM147.39 136.97h1.01v4.23h-1.01zM148.40 137.03h1.01v4.17h-1.01zM149.41 133.70h1.01v7.50h-1.01zM150.42 136.70h1.01v4.50h-1.01zM151.43 137.34h1.01v3.86h-1.01zM152.44 138.35h1.01v2.85h-1.01zM153.45 136.24h1.01v4.96h-1.01zM154.46 136.93h1.01v4.27h-1.01zM155.47 137.77h1.01v3.43h-1.01zM156.48 137.60h1.01v3.60h-1.01zM157.49 139.03h1.01v2.17h-1.01zM160.00 137.94h1.00v3.26h-1.00zM161.00 137.82h1.00v3.38h-1.00zM162.00 136.21h1.00v4.99h-1.00zM163.00 136.78h1.00v4.42h-1.00zM164.00 138.43h1.00v2.77h-1.00zM165.00 136.32h1.00v4.88h-1.00zM166.00 137.99h1.00v3.21h-1.00zM167.00 136.05h1.00v5.15h-1.00zM168.00 136.20h1.00v5.00h-1.00zM169.00 138.23h1.00v2.97h-1.00zM170.00 137.17h1.00v4.03h-1.00zM171.00 136.71h1.00v4.49h-1.00zM172.00 136.32h1.00v4.88h-1.00zM173.00 139.21h1.00v1.99h-1.00zM174.00 136.87h1.00v4.33h-1.00zM175.00 138.69h1.00v2.51h-1.00zM176.00 137.47h1.00v3.73h-1.00zM177.00 137.04h1.00v4.16h-1.00zM178.00 136.69h1.00v4.51h-1.00zM179.00 138.99h1.00v2.21h-1.00zM180.00 138.34h1.00v2.86h-1.00zM181.00 137.86h1.00v3.34h-1.00zM182.00 135.75h1.00v5.45h-1.00zM183.00 138.67h1.00v2.53h-1.00zM184.00 135.96h1.00v5.24h-1.00zM186.90 136.68h1.02v4.52h-1.02zM187.92 136.68h1.02v4.52h-1.02zM188.93 136.24h1.02v4.96h-1.02zM189.95 138.20h1.02v3.00h-1.02zM190.96 138.21h1.02v2.99h-1.02zM191.98 136.23h1.02v4.97h-1.02zM192.99 137.48h1.02v3.72h-1.02zM194.01 138.49h1.02v2.71h-1.02zM195.02 136.34h1.02v4.86h-1.02zM196.04 138.73h1.02v2.47h-1.02zM197.05 138.15h1.02v3.05h-1.02zM198.07 137.26h1.02v3.94h-1.02zM199.08 136.52h1.02v4.68h-1.02zM200.10 139.21h1.02v1.99h-1.02zM201.11 137.25h1.02v3.95h-1.02zM202.13 135.77h1.02v5.43h-1.02zM203.14 136.35h1.02v4.85h-1.02zM204.16 137.46h1.02v3.74h-1.02zM205.17 138.42h1.02v2.78h-1.02zM206.19 137.40h1.02v3.80h-1.02zM207.20 138.87h1.02v2.33h-1.02zM208.22 137.97h1.02v3.23h-1.02zM209.23 139.00h1.02v2.20h-1.02zM211.90 138.71h0.98v2.49h-0.98zM212.88 136.54h0.98v4.66h-0.98zM213.86 136.60h0.98v4.60h-0.98zM214.85 136.22h0.98v4.98h-0.98zM215.83 136.36h0.98v4.84h-0.98zM216.81 138.47h0.98v2.73h-0.98zM217.79 137.01h0.98v4.19h-0.98zM218.77 138.61h0.98v2.59h-0.98zM219.75 137.35h0.98v3.85h-0.98zM220.74 135.66h0.98v5.54h-0.98zM221.72 133.20h0.98v8.00h-0.98zM222.70 138.67h0.98v2.53h-0.98zM223.68 137.21h0.98v3.99h-0.98zM224.66 137.31h0.98v3.89h-0.98zM225.65 138.92h0.98v2.28h-0.98zM226.63 138.32h0.98v2.88h-0.98zM227.61 139.38h0.98v1.82h-0.98zM228.59 135.62h0.98v5.58h-0.98zM229.57 135.55h0.98v5.65h-0.98zM230.55 137.18h0.98v4.02h-0.98zM231.54 138.22h0.98v2.98h-0.98zM232.52 137.82h0.98v3.38h-0.98zM235.60 135.44h0.98v5.76h-0.98zM236.58 138.72h0.98v2.48h-0.98zM237.57 136.94h0.98v4.26h-0.98zM238.55 138.85h0.98v2.35h-0.98zM239.53 138.96h0.98v2.24h-0.98zM240.52 137.40h0.98v3.80h-0.98zM241.50 136.43h0.98v4.77h-0.98zM242.48 139.34h0.98v1.86h-0.98zM243.47 135.65h0.98v5.55h-0.98zM244.45 137.59h0.98v3.61h-0.98zM245.43 136.20h0.98v5.00h-0.98zM246.42 139.36h0.98v1.84h-0.98zM247.40 136.54h0.98v4.66h-0.98zM248.38 136.50h0.98v4.70h-0.98zM249.37 139.07h0.98v2.13h-0.98zM250.35 137.05h0.98v4.15h-0.98zM251.33 139.14h0.98v2.06h-0.98zM252.32 136.44h0.98v4.76h-0.98zM253.30 137.52h0.98v3.68h-0.98zM254.28 136.04h0.98v5.16h-0.98zM255.27 135.77h0.98v5.43h-0.98zM257.75 137.12h0.99v4.08h-0.99zM258.74 136.92h0.99v4.28h-0.99zM259.73 137.42h0.99v3.78h-0.99zM260.71 138.85h0.99v2.35h-0.99zM261.70 134.20h0.99v7.00h-0.99zM262.69 139.22h0.99v1.98h-0.99zM263.68 137.84h0.99v3.36h-0.99zM266.64 139.13h0.99v2.07h-0.99zM267.62 138.85h0.99v2.35h-0.99zM268.61 137.35h0.99v3.85h-0.99zM269.60 136.73h0.99v4.47h-0.99zM270.59 138.90h0.99v2.30h-0.99zM271.57 139.08h0.99v2.12h-0.99zM272.56 137.19h0.99v4.01h-0.99zM273.55 138.54h0.99v2.66h-0.99zM274.54 137.90h0.99v3.30h-0.99zM275.52 136.25h0.99v4.95h-0.99zM276.51 136.45h0.99v4.75h-0.99zM279.40 138.96h0.98v2.24h-0.98zM280.38 139.09h0.98v2.11h-0.98zM281.37 137.70h0.98v3.50h-0.98zM282.35 136.27h0.98v4.93h-0.98zM283.34 137.50h0.98v3.70h-0.98zM284.32 133.20h0.98v8.00h-0.98zM285.31 135.51h0.98v5.69h-0.98zM286.29 138.16h0.98v3.04h-0.98zM287.27 136.87h0.98v4.33h-0.98zM288.26 136.16h0.98v5.04h-0.98zM289.24 136.39h0.98v4.81h-0.98zM290.23 137.63h0.98v3.57h-0.98zM291.21 137.92h0.98v3.28h-0.98zM292.19 135.94h0.98v5.26h-0.98zM293.18 138.31h0.98v2.89h-0.98zM294.16 139.24h0.98v1.96h-0.98zM295.15 138.76h0.98v2.44h-0.98zM296.13 136.17h0.98v5.03h-0.98zM297.12 135.91h0.98v5.29h-0.98zM300.00 138.47h0.99v2.73h-0.99zM300.99 139.18h0.99v2.02h-0.99zM301.97 137.43h0.99v3.77h-0.99zM302.96 136.81h0.99v4.39h-0.99zM303.95 137.96h0.99v3.24h-0.99zM304.93 137.17h0.99v4.03h-0.99zM305.92 136.41h0.99v4.79h-0.99zM306.91 138.26h0.99v2.94h-0.99zM307.89 136.52h0.99v4.68h-0.99zM308.88 139.29h0.99v1.91h-0.99zM309.87 139.00h0.99v2.20h-0.99zM310.86 136.90h0.99v4.30h-0.99zM311.84 137.27h0.99v3.93h-0.99zM312.83 138.51h0.99v2.69h-0.99zM313.82 137.73h0.99v3.47h-0.99zM314.80 139.34h0.99v1.86h-0.99zM315.79 137.35h0.99v3.85h-0.99zM316.78 137.23h0.99v3.97h-0.99zM317.76 138.05h0.99v3.15h-0.99zM320.00 138.43h1.00v2.77h-1.00zM321.00 137.21h1.00v3.99h-1.00zM322.00 138.39h1.00v2.81h-1.00zM323.00 138.51h1.00v2.69h-1.00zM324.00 136.66h1.00v4.54h-1.00zM325.00 138.18h1.00v3.02h-1.00zM326.00 136.68h1.00v4.52h-1.00zM327.00 139.37h1.00v1.83h-1.00zM328.00 138.92h1.00v2.28h-1.00zM329.00 137.83h1.00v3.37h-1.00zM330.00 138.49h1.00v2.71h-1.00zM331.00 138.19h1.00v3.01h-1.00zM332.00 135.82h1.00v5.38h-1.00zM333.00 138.33h1.00v2.87h-1.00zM334.00 138.55h1.00v2.65h-1.00zM335.00 136.26h1.00v4.94h-1.00zM336.00 135.73h1.00v5.47h-1.00zM337.00 136.10h1.00v5.10h-1.00zM338.00 138.32h1.00v2.88h-1.00zM340.60 138.95h0.98v2.25h-0.98zM341.58 136.64h0.98v4.56h-0.98zM342.56 137.25h0.98v3.95h-0.98zM343.53 137.23h0.98v3.97h-0.98zM344.51 138.43h0.98v2.77h-0.98zM345.49 139.35h0.98v1.85h-0.98zM346.47 134.20h0.98v7.00h-0.98zM347.45 137.31h0.98v3.89h-0.98zM348.43 139.37h0.98v1.83h-0.98zM349.40 139.27h0.98v1.93h-0.98zM350.38 136.82h0.98v4.38h-0.98zM351.36 137.10h0.98v4.10h-0.98zM352.34 137.13h0.98v4.07h-0.98zM353.32 138.10h0.98v3.10h-0.98zM354.29 138.69h0.98v2.51h-0.98zM355.27 136.32h0.98v4.88h-0.98zM358.10 138.43h0.98v2.77h-0.98zM359.08 138.21h0.98v2.99h-0.98zM360.06 136.07h0.98v5.13h-0.98zM361.03 133.20h0.98v8.00h-0.98zM362.01 136.55h0.98v4.65h-0.98zM362.99 136.94h0.98v4.26h-0.98zM363.97 137.16h0.98v4.04h-0.98zM364.95 136.65h0.98v4.55h-0.98zM365.93 139.38h0.98v1.82h-0.98zM366.90 136.30h0.98v4.90h-0.98zM367.88 136.80h0.98v4.40h-0.98zM368.86 137.13h0.98v4.07h-0.98zM369.84 136.46h0.98v4.74h-0.98zM370.82 138.64h0.98v2.56h-0.98zM371.79 138.92h0.98v2.28h-0.98zM372.77 135.82h0.98v5.38h-0.98zM375.60 136.80h1.03v4.40h-1.03zM376.63 137.80h1.03v3.40h-1.03zM377.66 138.29h1.03v2.91h-1.03zM378.69 138.28h1.03v2.92h-1.03zM379.71 137.19h1.03v4.01h-1.03zM380.74 135.67h1.03v5.53h-1.03zM381.77 138.98h1.03v2.22h-1.03zM382.80 136.38h1.03v4.82h-1.03zM383.83 135.44h1.03v5.76h-1.03zM384.86 136.24h1.03v4.96h-1.03zM385.89 136.89h1.03v4.31h-1.03zM386.91 139.06h1.03v2.14h-1.03zM387.94 137.79h1.03v3.41h-1.03zM388.97 137.85h1.03v3.35h-1.03zM391.90 138.11h1.01v3.09h-1.01zM392.91 135.98h1.01v5.22h-1.01zM393.92 136.14h1.01v5.06h-1.01zM394.92 138.43h1.01v2.77h-1.01zM395.93 137.82h1.01v3.38h-1.01zM396.94 137.29h1.01v3.91h-1.01zM397.95 137.78h1.01v3.42h-1.01zM398.96 139.35h1.01v1.85h-1.01zM399.97 137.23h1.01v3.97h-1.01zM400.98 136.18h1.01v5.02h-1.01zM401.98 137.66h1.01v3.54h-1.01zM402.99 138.01h1.01v3.19h-1.01zM406.25 137.78h0.99v3.42h-0.99zM407.24 137.23h0.99v3.97h-0.99zM408.23 136.75h0.99v4.45h-0.99zM409.21 136.50h0.99v4.70h-0.99zM410.20 137.89h0.99v3.31h-0.99zM411.19 138.09h0.99v3.11h-0.99zM412.18 137.32h0.99v3.88h-0.99zM413.16 138.59h0.99v2.61h-0.99zM414.15 138.04h0.99v3.16h-0.99zM415.14 138.97h0.99v2.23h-0.99zM416.12 138.88h0.99v2.32h-0.99zM417.11 136.41h0.99v4.79h-0.99zM420.00 137.79h0.96v3.41h-0.96zM420.96 137.61h0.96v3.59h-0.96zM421.92 138.37h0.96v2.83h-0.96zM422.88 137.49h0.96v3.71h-0.96zM423.83 136.84h0.96v4.36h-0.96zM424.79 136.98h0.96v4.22h-0.96zM425.75 136.65h0.96v4.55h-0.96zM426.71 138.39h0.96v2.81h-0.96zM427.67 137.15h0.96v4.05h-0.96zM428.62 137.61h0.96v3.59h-0.96zM429.58 136.07h0.96v5.13h-0.96zM430.54 137.13h0.96v4.07h-0.96zM432.75 138.13h1.06v3.07h-1.06zM433.81 135.93h1.06v5.27h-1.06zM434.88 139.19h1.06v2.01h-1.06zM435.94 135.82h1.06v5.38h-1.06zM437.00 139.21h1.06v1.99h-1.06zM438.06 138.60h1.06v2.60h-1.06zM439.12 135.74h1.06v5.46h-1.06zM440.19 136.41h1.06v4.79h-1.06zM443.10 136.58h0.96v4.62h-0.96zM444.06 137.98h0.96v3.22h-0.96zM445.03 136.47h0.96v4.73h-0.96zM446.00 136.42h0.96v4.78h-0.96zM446.96 136.19h0.96v5.01h-0.96zM447.93 137.78h0.96v3.42h-0.96zM448.89 136.52h0.96v4.68h-0.96zM449.86 137.09h0.96v4.11h-0.96zM450.82 136.70h0.96v4.50h-0.96zM451.79 136.00h0.96v5.20h-0.96zM454.40 138.50h0.98v2.70h-0.98zM455.38 137.77h0.98v3.43h-0.98zM456.36 139.26h0.98v1.94h-0.98zM457.34 137.47h0.98v3.73h-0.98zM458.31 135.77h0.98v5.43h-0.98zM459.29 136.43h0.98v4.77h-0.98zM460.27 137.61h0.98v3.59h-0.98zM463.10 139.39h1.02v1.81h-1.02zM464.12 139.38h1.02v1.82h-1.02zM465.14 138.06h1.02v3.14h-1.02zM466.16 137.55h1.02v3.65h-1.02zM467.18 138.53h1.02v2.67h-1.02zM468.19 138.76h1.02v2.44h-1.02zM469.21 137.33h1.02v3.87h-1.02zM470.23 138.17h1.02v3.03h-1.02zM472.75 139.26h1.00v1.94h-1.00zM473.75 138.32h1.00v2.88h-1.00zM474.75 138.24h1.00v2.96h-1.00zM475.75 136.23h1.00v4.97h-1.00zM476.75 139.39h1.00v1.81h-1.00zM477.75 136.71h1.00v4.49h-1.00zM478.75 138.70h1.00v2.50h-1.00zM479.75 137.67h1.00v3.53h-1.00zM480.75 137.70h1.00v3.50h-1.00zM481.75 138.21h1.00v2.99h-1.00zM482.75 138.61h1.00v2.59h-1.00zM483.75 138.74h1.00v2.46h-1.00zM484.75 138.57h1.00v2.63h-1.00zM485.75 138.10h1.00v3.10h-1.00zM486.75 136.22h1.00v4.98h-1.00zM487.75 136.21h1.00v4.99h-1.00zM488.75 139.09h1.00v2.11h-1.00zM489.75 138.37h1.00v2.83h-1.00zM490.75 137.65h1.00v3.55h-1.00zM491.75 136.32h1.00v4.88h-1.00zM492.75 137.28h1.00v3.92h-1.00zM495.60 138.58h0.98v2.62h-0.98zM496.58 130.80h0.98v10.40h-0.98zM497.56 138.41h0.98v2.79h-0.98zM498.53 137.87h0.98v3.33h-0.98zM499.51 139.93h0.98v1.27h-0.98zM500.49 137.33h0.98v3.87h-0.98zM501.47 138.44h0.98v2.76h-0.98zM502.44 137.81h0.98v3.39h-0.98zM503.42 139.84h0.98v1.36h-0.98z" fill="#6e1a1c"/>
<rect x="33.00" y="141.20" width="33.75" height="9.9" fill="#df6c55"/>
<rect x="33.00" y="145.35" width="33.75" height="2.0" fill="#a8301f"/>
<text x="49.88" y="157.30" class="cl">1</text>
<rect x="68.60" y="141.20" width="32.90" height="9.9" fill="#df6c55"/>
<rect x="68.60" y="145.35" width="32.90" height="2.0" fill="#a8301f"/>
<text x="85.05" y="157.30" class="cl">2</text>
<rect x="103.50" y="141.20" width="27.10" height="9.9" fill="#df6c55"/>
<rect x="103.50" y="145.35" width="27.10" height="2.0" fill="#a8301f"/>
<text x="117.05" y="157.30" class="cl">3</text>
<rect x="132.25" y="141.20" width="26.25" height="9.9" fill="#df6c55"/>
<rect x="132.25" y="145.35" width="26.25" height="2.0" fill="#a8301f"/>
<text x="145.38" y="157.30" class="cl">4</text>
<rect x="160.00" y="141.20" width="25.00" height="9.9" fill="#df6c55"/>
<rect x="160.00" y="145.35" width="25.00" height="2.0" fill="#a8301f"/>
<text x="172.50" y="157.30" class="cl">5</text>
<rect x="186.90" y="141.20" width="23.35" height="9.9" fill="#df6c55"/>
<rect x="186.90" y="145.35" width="23.35" height="2.0" fill="#a8301f"/>
<text x="198.57" y="157.30" class="cl">6</text>
<rect x="211.90" y="141.20" width="21.60" height="9.9" fill="#df6c55"/>
<rect x="211.90" y="145.35" width="21.60" height="2.0" fill="#a8301f"/>
<text x="222.70" y="157.30" class="cl">7</text>
<rect x="235.60" y="141.20" width="20.65" height="9.9" fill="#df6c55"/>
<rect x="235.60" y="145.35" width="20.65" height="2.0" fill="#a8301f"/>
<text x="245.93" y="157.30" class="cl">8</text>
<rect x="257.75" y="141.20" width="19.75" height="9.9" fill="#df6c55"/>
<rect x="257.75" y="145.35" width="19.75" height="2.0" fill="#a8301f"/>
<text x="267.62" y="157.30" class="cl">9</text>
<rect x="279.40" y="141.20" width="18.70" height="9.9" fill="#df6c55"/>
<rect x="279.40" y="145.35" width="18.70" height="2.0" fill="#a8301f"/>
<text x="288.75" y="157.30" class="cl">10</text>
<rect x="300.00" y="141.20" width="18.75" height="9.9" fill="#df6c55"/>
<rect x="300.00" y="145.35" width="18.75" height="2.0" fill="#a8301f"/>
<text x="309.38" y="157.30" class="cl">11</text>
<rect x="320.00" y="141.20" width="19.00" height="9.9" fill="#df6c55"/>
<rect x="320.00" y="145.35" width="19.00" height="2.0" fill="#a8301f"/>
<text x="329.50" y="157.30" class="cl">12</text>
<rect x="340.60" y="141.20" width="15.65" height="9.9" fill="#df6c55"/>
<rect x="340.60" y="145.35" width="15.65" height="2.0" fill="#a8301f"/>
<text x="348.43" y="157.30" class="cl">13</text>
<rect x="358.10" y="141.20" width="15.65" height="9.9" fill="#df6c55"/>
<rect x="358.10" y="145.35" width="15.65" height="2.0" fill="#a8301f"/>
<text x="365.93" y="157.30" class="cl">14</text>
<rect x="375.60" y="141.20" width="14.40" height="9.9" fill="#df6c55"/>
<rect x="375.60" y="145.35" width="14.40" height="2.0" fill="#a8301f"/>
<text x="382.80" y="157.30" class="cl">15</text>
<rect x="391.90" y="141.20" width="12.10" height="9.9" fill="#df6c55"/>
<rect x="391.90" y="145.35" width="12.10" height="2.0" fill="#a8301f"/>
<text x="397.95" y="157.30" class="cl">16</text>
<rect x="406.25" y="141.20" width="11.85" height="9.9" fill="#df6c55"/>
<rect x="406.25" y="145.35" width="11.85" height="2.0" fill="#a8301f"/>
<text x="412.18" y="157.30" class="cl">17</text>
<rect x="420.00" y="141.20" width="11.50" height="9.9" fill="#df6c55"/>
<rect x="420.00" y="145.35" width="11.50" height="2.0" fill="#a8301f"/>
<text x="425.75" y="157.30" class="cl">18</text>
<rect x="432.75" y="141.20" width="8.50" height="9.9" fill="#df6c55"/>
<rect x="432.75" y="145.35" width="8.50" height="2.0" fill="#a8301f"/>
<text x="437.00" y="157.30" class="cl">19</text>
<rect x="443.10" y="141.20" width="9.65" height="9.9" fill="#df6c55"/>
<rect x="443.10" y="145.35" width="9.65" height="2.0" fill="#a8301f"/>
<text x="447.93" y="157.30" class="cl">20</text>
<rect x="454.40" y="141.20" width="6.85" height="9.9" fill="#df6c55"/>
<rect x="454.40" y="145.35" width="6.85" height="2.0" fill="#a8301f"/>
<text x="457.82" y="157.30" class="cl">21</text>
<rect x="463.10" y="141.20" width="8.15" height="9.9" fill="#df6c55"/>
<rect x="463.10" y="145.35" width="8.15" height="2.0" fill="#a8301f"/>
<text x="467.18" y="157.30" class="cl">22</text>
<rect x="472.75" y="141.20" width="21.00" height="9.9" fill="#df6c55"/>
<rect x="472.75" y="145.35" width="21.00" height="2.0" fill="#a8301f"/>
<text x="483.25" y="157.30" class="cl">X</text>
<rect x="495.60" y="141.20" width="8.80" height="9.9" fill="#df6c55"/>
<rect x="495.60" y="145.35" width="8.80" height="2.0" fill="#a8301f"/>
<text x="500.00" y="157.30" class="cl">Y</text>
<path d="M508.0 85.75V141.50" stroke="#2a2a2a" stroke-width="1.15" fill="none"/>
<path d="M508.0 141.50h3.8M508.0 130.35h3.8M508.0 119.20h3.8M508.0 108.05h3.8M508.0 96.90h3.8M508.0 85.75h3.8" stroke="#333" stroke-width="1" fill="none"/>
<text transform="translate(519.0 141.50) rotate(-90)" class="al">0</text>
<text transform="translate(519.0 130.35) rotate(-90)" class="al">10</text>
<text transform="translate(519.0 108.05) rotate(-90)" class="al">30</text>
<text transform="translate(519.0 85.75) rotate(-90)" class="al">50</text>
<text transform="translate(30.8 127.90) rotate(-90)" class="pl">Patient 2</text>
<path d="M38.96 218.98h0.99v2.72h-0.99zM41.93 218.94h0.99v2.76h-0.99zM42.93 218.50h0.99v3.20h-0.99zM43.92 219.43h0.99v2.27h-0.99zM44.91 217.92h0.99v3.78h-0.99zM45.90 217.80h0.99v3.90h-0.99zM49.88 218.35h0.99v3.35h-0.99zM52.85 218.72h0.99v2.98h-0.99zM56.82 219.04h0.99v2.66h-0.99zM68.60 217.95h1.00v3.75h-1.00zM73.58 219.33h1.00v2.37h-1.00zM75.58 217.72h1.00v3.98h-1.00zM77.57 218.97h1.00v2.73h-1.00zM80.56 218.91h1.00v2.79h-1.00zM81.56 219.45h1.00v2.25h-1.00zM82.56 217.59h1.00v4.11h-1.00zM83.55 218.94h1.00v2.76h-1.00zM86.55 218.25h1.00v3.45h-1.00zM87.54 219.63h1.00v2.07h-1.00zM88.54 218.66h1.00v3.04h-1.00zM90.53 219.14h1.00v2.56h-1.00zM99.51 218.75h1.00v2.95h-1.00zM103.50 217.71h1.00v3.99h-1.00zM105.51 218.37h1.00v3.33h-1.00zM108.52 218.87h1.00v2.83h-1.00zM112.53 219.41h1.00v2.29h-1.00zM126.59 218.54h1.00v3.16h-1.00zM127.59 217.99h1.00v3.71h-1.00zM128.59 218.29h1.00v3.41h-1.00zM138.31 218.67h1.01v3.03h-1.01zM143.36 217.84h1.01v3.86h-1.01zM154.46 218.52h1.01v3.18h-1.01zM155.47 218.86h1.01v2.84h-1.01zM160.00 218.75h1.00v2.95h-1.00zM161.00 217.71h1.00v3.99h-1.00zM165.00 218.85h1.00v2.85h-1.00zM167.00 218.07h1.00v3.63h-1.00zM174.00 219.28h1.00v2.42h-1.00zM180.00 218.83h1.00v2.87h-1.00zM181.00 218.99h1.00v2.71h-1.00zM189.95 219.07h1.02v2.63h-1.02zM203.14 218.24h1.02v3.46h-1.02zM204.16 218.37h1.02v3.33h-1.02zM208.22 218.40h1.02v3.30h-1.02zM211.90 218.21h0.98v3.49h-0.98zM216.81 218.92h0.98v2.78h-0.98zM224.66 218.96h0.98v2.74h-0.98zM225.65 217.74h0.98v3.96h-0.98zM227.61 218.52h0.98v3.18h-0.98zM236.58 218.53h0.98v3.17h-0.98zM241.50 217.77h0.98v3.93h-0.98zM242.48 218.87h0.98v2.83h-0.98zM250.35 219.04h0.98v2.66h-0.98zM252.32 220.06h0.98v1.64h-0.98zM253.30 218.14h0.98v3.56h-0.98zM259.73 218.11h0.99v3.59h-0.99zM265.65 218.02h0.99v3.68h-0.99zM274.54 217.87h0.99v3.83h-0.99zM281.37 218.11h0.98v3.59h-0.98zM290.23 218.91h0.98v2.79h-0.98zM291.21 218.02h0.98v3.68h-0.98zM292.19 218.49h0.98v3.21h-0.98zM293.18 218.09h0.98v3.61h-0.98zM296.13 218.65h0.98v3.05h-0.98zM297.12 218.18h0.98v3.52h-0.98zM304.93 218.95h0.99v2.75h-0.99zM310.86 217.65h0.99v4.05h-0.99zM315.79 218.51h0.99v3.19h-0.99zM324.00 218.62h1.00v3.08h-1.00zM328.00 218.71h1.00v2.99h-1.00zM340.60 219.92h0.98v1.78h-0.98zM341.58 217.84h0.98v3.86h-0.98zM346.47 219.21h0.98v2.49h-0.98zM348.43 218.30h0.98v3.40h-0.98zM352.34 219.25h0.98v2.45h-0.98zM359.08 219.03h0.98v2.67h-0.98zM361.03 217.81h0.98v3.89h-0.98zM369.84 218.90h0.98v2.80h-0.98zM380.74 218.60h1.03v3.10h-1.03zM388.97 218.31h1.03v3.39h-1.03zM391.90 217.58h1.01v4.12h-1.01zM392.91 217.53h1.01v4.17h-1.01zM394.92 219.33h1.01v2.37h-1.01zM407.24 219.49h0.99v2.21h-0.99zM420.96 217.80h0.96v3.90h-0.96zM421.92 218.91h0.96v2.79h-0.96zM422.88 218.48h0.96v3.22h-0.96zM423.83 219.06h0.96v2.64h-0.96zM428.62 218.65h0.96v3.05h-0.96zM432.75 219.05h1.06v2.65h-1.06zM443.10 219.97h0.96v1.73h-0.96zM445.03 218.82h0.96v2.88h-0.96zM446.96 218.67h0.96v3.03h-0.96zM448.89 218.80h0.96v2.90h-0.96zM449.86 218.56h0.96v3.14h-0.96zM450.82 217.55h0.96v4.15h-0.96zM455.38 217.31h0.98v4.39h-0.98zM456.36 217.57h0.98v4.13h-0.98zM459.29 218.45h0.98v3.25h-0.98zM460.27 217.76h0.98v3.94h-0.98zM473.75 219.09h1.00v2.61h-1.00zM476.75 218.75h1.00v2.95h-1.00zM480.75 219.14h1.00v2.56h-1.00zM481.75 218.22h1.00v3.48h-1.00zM482.75 218.15h1.00v3.55h-1.00zM487.75 218.51h1.00v3.19h-1.00zM492.75 218.21h1.00v3.49h-1.00zM498.53 219.76h0.98v1.94h-0.98z" fill="#7aa070"/>
<path d="M33.00 220.00h0.99v1.70h-0.99zM33.99 219.60h0.99v2.10h-0.99zM34.99 220.75h0.99v0.95h-0.99zM35.98 219.72h0.99v1.98h-0.99zM36.97 219.91h0.99v1.79h-0.99zM37.96 219.05h0.99v2.65h-0.99zM38.96 218.98h0.99v2.72h-0.99zM39.95 220.64h0.99v1.06h-0.99zM40.94 218.97h0.99v2.73h-0.99zM41.93 219.18h0.99v2.52h-0.99zM42.93 219.25h0.99v2.45h-0.99zM43.92 219.86h0.99v1.84h-0.99zM44.91 219.21h0.99v2.49h-0.99zM45.90 219.10h0.99v2.60h-0.99zM46.90 219.90h0.99v1.80h-0.99zM49.88 218.83h0.99v2.87h-0.99zM50.87 220.61h0.99v1.09h-0.99zM51.86 219.65h0.99v2.05h-0.99zM52.85 219.67h0.99v2.03h-0.99zM53.85 218.92h0.99v2.78h-0.99zM54.84 220.24h0.99v1.46h-0.99zM55.83 219.25h0.99v2.45h-0.99zM56.82 219.18h0.99v2.52h-0.99zM57.82 220.22h0.99v1.48h-0.99zM58.81 219.61h0.99v2.09h-0.99zM59.80 220.69h0.99v1.01h-0.99zM60.79 220.51h0.99v1.19h-0.99zM61.79 220.32h0.99v1.38h-0.99zM62.78 219.98h0.99v1.72h-0.99zM63.77 219.80h0.99v1.90h-0.99zM64.76 219.17h0.99v2.53h-0.99zM65.76 220.36h0.99v1.34h-0.99zM68.60 219.05h1.00v2.65h-1.00zM69.60 218.98h1.00v2.72h-1.00zM70.59 219.69h1.00v2.01h-1.00zM71.59 220.50h1.00v1.20h-1.00zM72.59 220.81h1.00v0.89h-1.00zM73.58 219.71h1.00v1.99h-1.00zM74.58 220.15h1.00v1.55h-1.00zM75.58 219.02h1.00v2.68h-1.00zM76.58 220.29h1.00v1.41h-1.00zM77.57 219.06h1.00v2.64h-1.00zM78.57 220.24h1.00v1.46h-1.00zM79.57 219.52h1.00v2.18h-1.00zM80.56 219.09h1.00v2.61h-1.00zM81.56 220.43h1.00v1.27h-1.00zM82.56 219.08h1.00v2.62h-1.00zM83.55 219.13h1.00v2.57h-1.00zM84.55 219.08h1.00v2.62h-1.00zM85.55 220.79h1.00v0.91h-1.00zM86.55 219.20h1.00v2.50h-1.00zM87.54 220.44h1.00v1.26h-1.00zM88.54 219.04h1.00v2.66h-1.00zM89.54 219.15h1.00v2.55h-1.00zM90.53 219.21h1.00v2.49h-1.00zM91.53 219.54h1.00v2.16h-1.00zM92.53 219.65h1.00v2.05h-1.00zM93.52 219.69h1.00v2.01h-1.00zM94.52 219.82h1.00v1.88h-1.00zM95.52 219.19h1.00v2.51h-1.00zM96.52 220.69h1.00v1.01h-1.00zM97.51 219.78h1.00v1.92h-1.00zM98.51 220.54h1.00v1.16h-1.00zM99.51 218.86h1.00v2.84h-1.00zM100.50 219.69h1.00v2.01h-1.00zM103.50 219.08h1.00v2.62h-1.00zM104.50 219.81h1.00v1.89h-1.00zM105.51 219.06h1.00v2.64h-1.00zM106.51 219.93h1.00v1.77h-1.00zM107.51 219.60h1.00v2.10h-1.00zM108.52 219.21h1.00v2.49h-1.00zM109.52 219.72h1.00v1.98h-1.00zM110.53 219.64h1.00v2.06h-1.00zM111.53 220.78h1.00v0.92h-1.00zM112.53 220.78h1.00v0.92h-1.00zM113.54 216.70h1.00v5.00h-1.00zM114.54 220.02h1.00v1.68h-1.00zM115.54 219.67h1.00v2.03h-1.00zM116.55 219.44h1.00v2.26h-1.00zM117.55 220.70h1.00v1.00h-1.00zM118.56 219.84h1.00v1.86h-1.00zM119.56 219.39h1.00v2.31h-1.00zM120.56 219.67h1.00v2.03h-1.00zM121.57 219.75h1.00v1.95h-1.00zM122.57 220.32h1.00v1.38h-1.00zM123.57 220.54h1.00v1.16h-1.00zM124.58 219.84h1.00v1.86h-1.00zM125.58 219.95h1.00v1.75h-1.00zM126.59 219.04h1.00v2.66h-1.00zM127.59 218.79h1.00v2.91h-1.00zM128.59 219.16h1.00v2.54h-1.00zM129.60 219.83h1.00v1.87h-1.00zM132.25 219.28h1.01v2.42h-1.01zM133.26 220.08h1.01v1.62h-1.01zM134.27 220.55h1.01v1.15h-1.01zM135.28 219.73h1.01v1.97h-1.01zM136.29 219.92h1.01v1.78h-1.01zM137.30 220.52h1.01v1.18h-1.01zM138.31 219.00h1.01v2.70h-1.01zM139.32 220.09h1.01v1.61h-1.01zM140.33 220.24h1.01v1.46h-1.01zM141.34 217.70h1.01v4.00h-1.01zM142.35 218.95h1.01v2.75h-1.01zM143.36 218.73h1.01v2.97h-1.01zM144.37 220.50h1.01v1.20h-1.01zM145.38 220.63h1.01v1.07h-1.01zM146.38 219.42h1.01v2.28h-1.01zM147.39 220.29h1.01v1.41h-1.01zM148.40 219.51h1.01v2.19h-1.01zM149.41 220.50h1.01v1.20h-1.01zM150.42 219.65h1.01v2.05h-1.01zM151.43 219.47h1.01v2.23h-1.01zM152.44 220.50h1.01v1.20h-1.01zM153.45 219.78h1.01v1.92h-1.01zM154.46 218.89h1.01v2.81h-1.01zM155.47 219.03h1.01v2.67h-1.01zM156.48 218.89h1.01v2.81h-1.01zM157.49 218.92h1.01v2.78h-1.01zM160.00 218.88h1.00v2.82h-1.00zM161.00 218.74h1.00v2.96h-1.00zM162.00 220.06h1.00v1.64h-1.00zM163.00 219.86h1.00v1.84h-1.00zM164.00 219.30h1.00v2.40h-1.00zM165.00 218.88h1.00v2.82h-1.00zM166.00 219.21h1.00v2.49h-1.00zM167.00 219.20h1.00v2.50h-1.00zM168.00 219.55h1.00v2.15h-1.00zM169.00 218.89h1.00v2.81h-1.00zM170.00 220.02h1.00v1.68h-1.00zM171.00 219.92h1.00v1.78h-1.00zM172.00 219.97h1.00v1.73h-1.00zM173.00 219.60h1.00v2.10h-1.00zM174.00 219.86h1.00v1.84h-1.00zM175.00 219.85h1.00v1.85h-1.00zM176.00 219.82h1.00v1.88h-1.00zM177.00 220.35h1.00v1.35h-1.00zM178.00 220.01h1.00v1.69h-1.00zM179.00 220.68h1.00v1.02h-1.00zM180.00 219.78h1.00v1.92h-1.00zM181.00 219.66h1.00v2.04h-1.00zM182.00 219.85h1.00v1.85h-1.00zM183.00 219.75h1.00v1.95h-1.00zM184.00 219.32h1.00v2.38h-1.00zM186.90 219.65h1.02v2.05h-1.02zM187.92 219.14h1.02v2.56h-1.02zM188.93 219.21h1.02v2.49h-1.02zM189.95 220.46h1.02v1.24h-1.02zM190.96 219.29h1.02v2.41h-1.02zM191.98 220.83h1.02v0.87h-1.02zM192.99 219.91h1.02v1.79h-1.02zM194.01 220.77h1.02v0.93h-1.02zM195.02 218.93h1.02v2.77h-1.02zM196.04 219.69h1.02v2.01h-1.02zM197.05 219.82h1.02v1.88h-1.02zM198.07 220.12h1.02v1.58h-1.02zM199.08 219.02h1.02v2.68h-1.02zM200.10 220.44h1.02v1.26h-1.02zM201.11 220.20h1.02v1.50h-1.02zM202.13 219.07h1.02v2.63h-1.02zM203.14 218.72h1.02v2.98h-1.02zM204.16 219.00h1.02v2.70h-1.02zM205.17 220.17h1.02v1.53h-1.02zM206.19 220.67h1.02v1.03h-1.02zM207.20 220.59h1.02v1.11h-1.02zM208.22 218.73h1.02v2.97h-1.02zM209.23 220.04h1.02v1.66h-1.02zM211.90 218.97h0.98v2.73h-0.98zM212.88 219.25h0.98v2.45h-0.98zM213.86 220.78h0.98v0.92h-0.98zM214.85 220.24h0.98v1.46h-0.98zM215.83 219.68h0.98v2.02h-0.98zM216.81 219.16h0.98v2.54h-0.98zM217.79 220.38h0.98v1.32h-0.98zM218.77 219.68h0.98v2.02h-0.98zM219.75 220.25h0.98v1.45h-0.98zM220.74 219.04h0.98v2.66h-0.98zM221.72 217.20h0.98v4.50h-0.98zM222.70 220.03h0.98v1.67h-0.98zM223.68 220.67h0.98v1.03h-0.98zM224.66 219.12h0.98v2.58h-0.98zM225.65 219.20h0.98v2.50h-0.98zM226.63 219.94h0.98v1.76h-0.98zM227.61 218.97h0.98v2.73h-0.98zM228.59 219.13h0.98v2.57h-0.98zM229.57 219.62h0.98v2.08h-0.98zM230.55 218.97h0.98v2.73h-0.98zM231.54 220.19h0.98v1.51h-0.98zM232.52 220.07h0.98v1.63h-0.98zM235.60 220.18h0.98v1.52h-0.98zM236.58 219.43h0.98v2.27h-0.98zM237.57 220.32h0.98v1.38h-0.98zM238.55 219.88h0.98v1.82h-0.98zM239.53 219.86h0.98v1.84h-0.98zM240.52 220.40h0.98v1.30h-0.98zM241.50 218.81h0.98v2.89h-0.98zM242.48 218.92h0.98v2.78h-0.98zM243.47 218.94h0.98v2.76h-0.98zM244.45 219.07h0.98v2.63h-0.98zM245.43 219.68h0.98v2.02h-0.98zM246.42 220.15h0.98v1.55h-0.98zM247.40 219.59h0.98v2.11h-0.98zM248.38 218.85h0.98v2.85h-0.98zM249.37 219.35h0.98v2.35h-0.98zM250.35 219.22h0.98v2.48h-0.98zM251.33 220.57h0.98v1.13h-0.98zM252.32 220.80h0.98v0.90h-0.98zM253.30 219.13h0.98v2.57h-0.98zM254.28 220.03h0.98v1.67h-0.98zM255.27 219.88h0.98v1.82h-0.98zM257.75 219.82h0.99v1.88h-0.99zM258.74 220.28h0.99v1.42h-0.99zM259.73 219.03h0.99v2.67h-0.99zM260.71 219.36h0.99v2.34h-0.99zM263.68 219.19h0.99v2.51h-0.99zM264.66 219.51h0.99v2.19h-0.99zM265.65 219.33h0.99v2.37h-0.99zM266.64 217.20h0.99v4.50h-0.99zM267.62 219.81h0.99v1.89h-0.99zM268.61 220.09h0.99v1.61h-0.99zM269.60 219.59h0.99v2.11h-0.99zM270.59 219.16h0.99v2.54h-0.99zM271.57 220.37h0.99v1.33h-0.99zM272.56 220.20h0.99v1.50h-0.99zM273.55 220.80h0.99v0.90h-0.99zM274.54 218.86h0.99v2.84h-0.99zM275.52 219.11h0.99v2.59h-0.99zM276.51 220.65h0.99v1.05h-0.99zM279.40 220.48h0.98v1.22h-0.98zM280.38 220.45h0.98v1.25h-0.98zM281.37 218.85h0.98v2.85h-0.98zM282.35 219.28h0.98v2.42h-0.98zM283.34 215.20h0.98v6.50h-0.98zM284.32 220.57h0.98v1.13h-0.98zM285.31 220.33h0.98v1.37h-0.98zM286.29 220.24h0.98v1.46h-0.98zM287.27 219.43h0.98v2.27h-0.98zM288.26 220.40h0.98v1.30h-0.98zM289.24 220.02h0.98v1.68h-0.98zM290.23 218.96h0.98v2.74h-0.98zM291.21 219.27h0.98v2.43h-0.98zM292.19 219.32h0.98v2.38h-0.98zM293.18 218.82h0.98v2.88h-0.98zM294.16 219.05h0.98v2.65h-0.98zM295.15 219.91h0.98v1.79h-0.98zM296.13 219.07h0.98v2.63h-0.98zM297.12 218.85h0.98v2.85h-0.98zM300.00 219.79h0.99v1.91h-0.99zM300.99 220.56h0.99v1.14h-0.99zM301.97 219.77h0.99v1.93h-0.99zM302.96 220.69h0.99v1.01h-0.99zM303.95 219.77h0.99v1.93h-0.99zM304.93 219.23h0.99v2.47h-0.99zM305.92 220.69h0.99v1.01h-0.99zM306.91 220.08h0.99v1.62h-0.99zM307.89 220.44h0.99v1.26h-0.99zM308.88 220.51h0.99v1.19h-0.99zM309.87 219.29h0.99v2.41h-0.99zM310.86 218.75h0.99v2.95h-0.99zM311.84 220.36h0.99v1.34h-0.99zM312.83 220.11h0.99v1.59h-0.99zM313.82 220.52h0.99v1.18h-0.99zM314.80 220.81h0.99v0.89h-0.99zM315.79 219.12h0.99v2.58h-0.99zM316.78 220.46h0.99v1.24h-0.99zM317.76 220.26h0.99v1.44h-0.99zM320.00 220.68h1.00v1.02h-1.00zM321.00 220.07h1.00v1.63h-1.00zM322.00 219.49h1.00v2.21h-1.00zM323.00 219.39h1.00v2.31h-1.00zM324.00 218.75h1.00v2.95h-1.00zM325.00 219.95h1.00v1.75h-1.00zM326.00 219.32h1.00v2.38h-1.00zM327.00 219.47h1.00v2.23h-1.00zM328.00 219.02h1.00v2.68h-1.00zM329.00 219.40h1.00v2.30h-1.00zM330.00 219.21h1.00v2.49h-1.00zM331.00 220.69h1.00v1.01h-1.00zM332.00 220.00h1.00v1.70h-1.00zM333.00 220.84h1.00v0.86h-1.00zM334.00 219.19h1.00v2.51h-1.00zM335.00 220.24h1.00v1.46h-1.00zM336.00 218.95h1.00v2.75h-1.00zM337.00 220.36h1.00v1.34h-1.00zM338.00 220.27h1.00v1.43h-1.00zM340.60 220.81h0.98v0.89h-0.98zM341.58 219.10h0.98v2.60h-0.98zM342.56 220.13h0.98v1.57h-0.98zM343.53 219.49h0.98v2.21h-0.98zM344.51 220.33h0.98v1.37h-0.98zM345.49 218.87h0.98v2.83h-0.98zM346.47 219.22h0.98v2.48h-0.98zM347.45 219.00h0.98v2.70h-0.98zM348.43 218.93h0.98v2.77h-0.98zM349.40 220.75h0.98v0.95h-0.98zM350.38 219.80h0.98v1.90h-0.98zM351.36 219.53h0.98v2.17h-0.98zM352.34 220.15h0.98v1.55h-0.98zM353.32 219.97h0.98v1.73h-0.98zM354.29 219.73h0.98v1.97h-0.98zM355.27 219.45h0.98v2.25h-0.98zM358.10 220.37h0.98v1.33h-0.98zM359.08 219.10h0.98v2.60h-0.98zM360.06 219.86h0.98v1.84h-0.98zM361.03 219.28h0.98v2.42h-0.98zM362.01 219.61h0.98v2.09h-0.98zM362.99 219.32h0.98v2.38h-0.98zM363.97 219.32h0.98v2.38h-0.98zM364.95 220.57h0.98v1.13h-0.98zM365.93 220.26h0.98v1.44h-0.98zM366.90 220.21h0.98v1.49h-0.98zM367.88 219.47h0.98v2.23h-0.98zM368.86 220.37h0.98v1.33h-0.98zM369.84 220.21h0.98v1.49h-0.98zM370.82 220.43h0.98v1.27h-0.98zM371.79 219.81h0.98v1.89h-0.98zM372.77 219.99h0.98v1.71h-0.98zM375.60 220.56h1.03v1.14h-1.03zM376.63 220.56h1.03v1.14h-1.03zM377.66 220.40h1.03v1.30h-1.03zM378.69 219.81h1.03v1.89h-1.03zM379.71 217.70h1.03v4.00h-1.03zM380.74 218.70h1.03v3.00h-1.03zM381.77 220.12h1.03v1.58h-1.03zM382.80 219.25h1.03v2.45h-1.03zM383.83 220.33h1.03v1.37h-1.03zM384.86 220.81h1.03v0.89h-1.03zM385.89 219.97h1.03v1.73h-1.03zM386.91 220.27h1.03v1.43h-1.03zM387.94 218.94h1.03v2.76h-1.03zM388.97 219.69h1.03v2.01h-1.03zM391.90 219.21h1.01v2.49h-1.01zM392.91 218.96h1.01v2.74h-1.01zM393.92 220.25h1.01v1.45h-1.01zM394.92 220.75h1.01v0.95h-1.01zM395.93 219.02h1.01v2.68h-1.01zM396.94 215.70h1.01v6.00h-1.01zM397.95 219.31h1.01v2.39h-1.01zM398.96 219.53h1.01v2.17h-1.01zM399.97 219.93h1.01v1.77h-1.01zM400.98 219.57h1.01v2.13h-1.01zM401.98 220.53h1.01v1.17h-1.01zM402.99 218.91h1.01v2.79h-1.01zM406.25 219.20h0.99v2.50h-0.99zM407.24 220.09h0.99v1.61h-0.99zM408.23 220.20h0.99v1.50h-0.99zM409.21 220.04h0.99v1.66h-0.99zM410.20 219.16h0.99v2.54h-0.99zM411.19 219.51h0.99v2.19h-0.99zM412.18 220.75h0.99v0.95h-0.99zM413.16 219.26h0.99v2.44h-0.99zM414.15 218.89h0.99v2.81h-0.99zM415.14 220.07h0.99v1.63h-0.99zM416.12 220.71h0.99v0.99h-0.99zM417.11 218.97h0.99v2.73h-0.99zM420.00 220.67h0.96v1.03h-0.96zM420.96 219.16h0.96v2.54h-0.96zM421.92 219.10h0.96v2.60h-0.96zM422.88 218.87h0.96v2.83h-0.96zM423.83 220.26h0.96v1.44h-0.96zM424.79 219.09h0.96v2.61h-0.96zM425.75 219.85h0.96v1.85h-0.96zM426.71 219.97h0.96v1.73h-0.96zM427.67 219.83h0.96v1.87h-0.96zM428.62 218.75h0.96v2.95h-0.96zM429.58 219.77h0.96v1.93h-0.96zM430.54 220.30h0.96v1.40h-0.96zM432.75 220.24h1.06v1.46h-1.06zM433.81 220.06h1.06v1.64h-1.06zM434.88 219.42h1.06v2.28h-1.06zM435.94 219.38h1.06v2.32h-1.06zM437.00 219.98h1.06v1.72h-1.06zM438.06 220.33h1.06v1.37h-1.06zM439.12 219.40h1.06v2.30h-1.06zM440.19 219.02h1.06v2.68h-1.06zM443.10 220.35h0.96v1.35h-0.96zM444.06 219.62h0.96v2.08h-0.96zM445.03 219.22h0.96v2.48h-0.96zM446.00 220.26h0.96v1.44h-0.96zM446.96 220.13h0.96v1.57h-0.96zM447.93 220.64h0.96v1.06h-0.96zM448.89 219.44h0.96v2.26h-0.96zM449.86 219.20h0.96v2.50h-0.96zM450.82 218.89h0.96v2.81h-0.96zM451.79 219.35h0.96v2.35h-0.96zM454.40 220.67h0.98v1.03h-0.98zM455.38 218.73h0.98v2.97h-0.98zM456.36 218.75h0.98v2.95h-0.98zM457.34 220.42h0.98v1.28h-0.98zM458.31 219.90h0.98v1.80h-0.98zM459.29 219.31h0.98v2.39h-0.98zM460.27 218.90h0.98v2.80h-0.98zM463.10 219.89h1.02v1.81h-1.02zM464.12 219.19h1.02v2.51h-1.02zM465.14 220.70h1.02v1.00h-1.02zM466.16 220.48h1.02v1.22h-1.02zM467.18 219.26h1.02v2.44h-1.02zM468.19 220.51h1.02v1.19h-1.02zM469.21 219.29h1.02v2.41h-1.02zM470.23 220.01h1.02v1.69h-1.02zM472.75 219.38h1.00v2.32h-1.00zM473.75 219.09h1.00v2.61h-1.00zM474.75 219.67h1.00v2.03h-1.00zM475.75 220.25h1.00v1.45h-1.00zM476.75 218.99h1.00v2.71h-1.00zM477.75 220.73h1.00v0.97h-1.00zM478.75 220.46h1.00v1.24h-1.00zM479.75 220.00h1.00v1.70h-1.00zM480.75 219.18h1.00v2.52h-1.00zM481.75 219.18h1.00v2.52h-1.00zM482.75 219.49h1.00v2.21h-1.00zM483.75 219.90h1.00v1.80h-1.00zM484.75 219.55h1.00v2.15h-1.00zM485.75 218.94h1.00v2.76h-1.00zM486.75 220.40h1.00v1.30h-1.00zM487.75 219.44h1.00v2.26h-1.00zM488.75 220.82h1.00v0.88h-1.00zM489.75 220.62h1.00v1.08h-1.00zM490.75 219.41h1.00v2.29h-1.00zM491.75 220.34h1.00v1.36h-1.00zM492.75 219.12h1.00v2.58h-1.00zM495.60 220.79h0.98v0.91h-0.98zM496.58 221.02h0.98v0.68h-0.98zM497.56 211.70h0.98v10.00h-0.98zM498.53 220.39h0.98v1.31h-0.98zM499.51 221.03h0.98v0.67h-0.98zM500.49 220.61h0.98v1.09h-0.98zM501.47 220.78h0.98v0.92h-0.98zM502.44 220.39h0.98v1.31h-0.98zM503.42 220.71h0.98v0.99h-0.98z" fill="#2d5e2d"/>
<rect x="33.00" y="221.70" width="33.75" height="9.9" fill="#8dc47a"/>
<rect x="33.00" y="225.85" width="33.75" height="2.0" fill="#2f7d31"/>
<text x="49.88" y="237.80" class="cl">1</text>
<rect x="68.60" y="221.70" width="32.90" height="9.9" fill="#8dc47a"/>
<rect x="68.60" y="225.85" width="32.90" height="2.0" fill="#2f7d31"/>
<text x="85.05" y="237.80" class="cl">2</text>
<rect x="103.50" y="221.70" width="27.10" height="9.9" fill="#8dc47a"/>
<rect x="103.50" y="225.85" width="27.10" height="2.0" fill="#2f7d31"/>
<text x="117.05" y="237.80" class="cl">3</text>
<rect x="132.25" y="221.70" width="26.25" height="9.9" fill="#8dc47a"/>
<rect x="132.25" y="225.85" width="26.25" height="2.0" fill="#2f7d31"/>
<text x="145.38" y="237.80" class="cl">4</text>
<rect x="160.00" y="221.70" width="25.00" height="9.9" fill="#8dc47a"/>
<rect x="160.00" y="225.85" width="25.00" height="2.0" fill="#2f7d31"/>
<text x="172.50" y="237.80" class="cl">5</text>
<rect x="186.90" y="221.70" width="23.35" height="9.9" fill="#8dc47a"/>
<rect x="186.90" y="225.85" width="23.35" height="2.0" fill="#2f7d31"/>
<text x="198.57" y="237.80" class="cl">6</text>
<rect x="211.90" y="221.70" width="21.60" height="9.9" fill="#8dc47a"/>
<rect x="211.90" y="225.85" width="21.60" height="2.0" fill="#2f7d31"/>
<text x="222.70" y="237.80" class="cl">7</text>
<rect x="235.60" y="221.70" width="20.65" height="9.9" fill="#8dc47a"/>
<rect x="235.60" y="225.85" width="20.65" height="2.0" fill="#2f7d31"/>
<text x="245.93" y="237.80" class="cl">8</text>
<rect x="257.75" y="221.70" width="19.75" height="9.9" fill="#8dc47a"/>
<rect x="257.75" y="225.85" width="19.75" height="2.0" fill="#2f7d31"/>
<text x="267.62" y="237.80" class="cl">9</text>
<rect x="279.40" y="221.70" width="18.70" height="9.9" fill="#8dc47a"/>
<rect x="279.40" y="225.85" width="18.70" height="2.0" fill="#2f7d31"/>
<text x="288.75" y="237.80" class="cl">10</text>
<rect x="300.00" y="221.70" width="18.75" height="9.9" fill="#8dc47a"/>
<rect x="300.00" y="225.85" width="18.75" height="2.0" fill="#2f7d31"/>
<text x="309.38" y="237.80" class="cl">11</text>
<rect x="320.00" y="221.70" width="19.00" height="9.9" fill="#8dc47a"/>
<rect x="320.00" y="225.85" width="19.00" height="2.0" fill="#2f7d31"/>
<text x="329.50" y="237.80" class="cl">12</text>
<rect x="340.60" y="221.70" width="15.65" height="9.9" fill="#8dc47a"/>
<rect x="340.60" y="225.85" width="15.65" height="2.0" fill="#2f7d31"/>
<text x="348.43" y="237.80" class="cl">13</text>
<rect x="358.10" y="221.70" width="15.65" height="9.9" fill="#8dc47a"/>
<rect x="358.10" y="225.85" width="15.65" height="2.0" fill="#2f7d31"/>
<text x="365.93" y="237.80" class="cl">14</text>
<rect x="375.60" y="221.70" width="14.40" height="9.9" fill="#8dc47a"/>
<rect x="375.60" y="225.85" width="14.40" height="2.0" fill="#2f7d31"/>
<text x="382.80" y="237.80" class="cl">15</text>
<rect x="391.90" y="221.70" width="12.10" height="9.9" fill="#8dc47a"/>
<rect x="391.90" y="225.85" width="12.10" height="2.0" fill="#2f7d31"/>
<text x="397.95" y="237.80" class="cl">16</text>
<rect x="406.25" y="221.70" width="11.85" height="9.9" fill="#8dc47a"/>
<rect x="406.25" y="225.85" width="11.85" height="2.0" fill="#2f7d31"/>
<text x="412.18" y="237.80" class="cl">17</text>
<rect x="420.00" y="221.70" width="11.50" height="9.9" fill="#8dc47a"/>
<rect x="420.00" y="225.85" width="11.50" height="2.0" fill="#2f7d31"/>
<text x="425.75" y="237.80" class="cl">18</text>
<rect x="432.75" y="221.70" width="8.50" height="9.9" fill="#8dc47a"/>
<rect x="432.75" y="225.85" width="8.50" height="2.0" fill="#2f7d31"/>
<text x="437.00" y="237.80" class="cl">19</text>
<rect x="443.10" y="221.70" width="9.65" height="9.9" fill="#8dc47a"/>
<rect x="443.10" y="225.85" width="9.65" height="2.0" fill="#2f7d31"/>
<text x="447.93" y="237.80" class="cl">20</text>
<rect x="454.40" y="221.70" width="6.85" height="9.9" fill="#8dc47a"/>
<rect x="454.40" y="225.85" width="6.85" height="2.0" fill="#2f7d31"/>
<text x="457.82" y="237.80" class="cl">21</text>
<rect x="463.10" y="221.70" width="8.15" height="9.9" fill="#8dc47a"/>
<rect x="463.10" y="225.85" width="8.15" height="2.0" fill="#2f7d31"/>
<text x="467.18" y="237.80" class="cl">22</text>
<rect x="472.75" y="221.70" width="21.00" height="9.9" fill="#8dc47a"/>
<rect x="472.75" y="225.85" width="21.00" height="2.0" fill="#2f7d31"/>
<text x="483.25" y="237.80" class="cl">X</text>
<rect x="495.60" y="221.70" width="8.80" height="9.9" fill="#8dc47a"/>
<rect x="495.60" y="225.85" width="8.80" height="2.0" fill="#2f7d31"/>
<text x="500.00" y="237.80" class="cl">Y</text>
<path d="M508.0 166.25V222.00" stroke="#2a2a2a" stroke-width="1.15" fill="none"/>
<path d="M508.0 222.00h3.8M508.0 210.85h3.8M508.0 199.70h3.8M508.0 188.55h3.8M508.0 177.40h3.8M508.0 166.25h3.8" stroke="#333" stroke-width="1" fill="none"/>
<text transform="translate(519.0 222.00) rotate(-90)" class="al">0</text>
<text transform="translate(519.0 210.85) rotate(-90)" class="al">10</text>
<text transform="translate(519.0 188.55) rotate(-90)" class="al">30</text>
<text transform="translate(519.0 166.25) rotate(-90)" class="al">50</text>
<text transform="translate(30.8 208.40) rotate(-90)" class="pl">Patient 3</text>
<path d="M35.98 297.40h0.99v4.90h-0.99zM37.96 296.27h0.99v6.03h-0.99zM44.91 297.11h0.99v5.19h-0.99zM53.85 295.09h0.99v7.21h-0.99zM60.79 298.22h0.99v4.08h-0.99zM64.76 294.87h0.99v7.43h-0.99zM72.59 298.61h1.00v3.69h-1.00zM87.54 298.22h1.00v4.08h-1.00zM92.53 296.05h1.00v6.25h-1.00zM95.52 298.99h1.00v3.31h-1.00zM103.50 297.67h1.00v4.63h-1.00zM107.51 296.50h1.00v5.80h-1.00zM112.53 289.80h1.00v12.50h-1.00zM116.55 297.14h1.00v5.16h-1.00zM117.55 297.36h1.00v4.94h-1.00zM120.56 295.31h1.00v6.99h-1.00zM121.57 298.47h1.00v3.83h-1.00zM127.59 297.99h1.00v4.31h-1.00zM132.25 296.96h1.01v5.34h-1.01zM134.27 298.81h1.01v3.49h-1.01zM139.32 294.90h1.01v7.40h-1.01zM140.33 296.57h1.01v5.73h-1.01zM145.38 295.94h1.01v6.36h-1.01zM151.43 295.82h1.01v6.48h-1.01zM152.44 296.52h1.01v5.78h-1.01zM162.00 297.17h1.00v5.13h-1.00zM167.00 297.30h1.00v5.00h-1.00zM173.00 296.06h1.00v6.24h-1.00zM178.00 296.91h1.00v5.39h-1.00zM179.00 297.40h1.00v4.90h-1.00zM181.00 296.34h1.00v5.96h-1.00zM183.00 296.58h1.00v5.72h-1.00zM184.00 297.75h1.00v4.55h-1.00zM187.92 295.08h1.02v7.22h-1.02zM188.93 298.42h1.02v3.88h-1.02zM189.95 296.22h1.02v6.08h-1.02zM202.13 296.61h1.02v5.69h-1.02zM203.14 295.01h1.02v7.29h-1.02zM206.19 297.05h1.02v5.25h-1.02zM215.83 299.32h0.98v2.98h-0.98zM216.81 297.25h0.98v5.05h-0.98zM218.77 296.79h0.98v5.51h-0.98zM219.75 297.00h0.98v5.30h-0.98zM244.45 295.47h0.98v6.83h-0.98zM254.28 296.43h0.98v5.87h-0.98zM257.75 296.80h0.99v5.50h-0.99zM262.69 296.10h0.99v6.20h-0.99zM268.61 295.06h0.99v7.24h-0.99zM271.57 297.32h0.99v4.98h-0.99zM276.51 296.78h0.99v5.52h-0.99zM281.37 296.07h0.98v6.23h-0.98zM288.26 295.37h0.98v6.93h-0.98zM289.24 296.22h0.98v6.08h-0.98zM290.23 299.54h0.98v2.76h-0.98zM293.18 295.22h0.98v7.08h-0.98zM295.15 297.69h0.98v4.61h-0.98zM296.13 295.13h0.98v7.17h-0.98zM297.12 294.94h0.98v7.36h-0.98zM300.00 297.69h0.99v4.61h-0.99zM301.97 294.76h0.99v7.54h-0.99zM303.95 296.80h0.99v5.50h-0.99zM304.93 295.63h0.99v6.67h-0.99zM307.89 297.10h0.99v5.20h-0.99zM309.87 296.71h0.99v5.59h-0.99zM311.84 295.52h0.99v6.78h-0.99zM312.83 295.61h0.99v6.69h-0.99zM317.76 297.34h0.99v4.96h-0.99zM320.00 297.30h1.00v5.00h-1.00zM321.00 297.33h1.00v4.97h-1.00zM326.00 296.74h1.00v5.56h-1.00zM328.00 294.74h1.00v7.56h-1.00zM329.00 295.60h1.00v6.70h-1.00zM330.00 297.92h1.00v4.38h-1.00zM332.00 298.34h1.00v3.96h-1.00zM335.00 298.50h1.00v3.80h-1.00zM337.00 298.11h1.00v4.19h-1.00zM342.56 296.50h0.98v5.80h-0.98zM343.53 295.22h0.98v7.08h-0.98zM344.51 296.48h0.98v5.82h-0.98zM345.49 296.85h0.98v5.45h-0.98zM349.40 295.50h0.98v6.80h-0.98zM358.10 295.76h0.98v6.54h-0.98zM359.08 295.06h0.98v7.24h-0.98zM362.99 298.13h0.98v4.17h-0.98zM363.97 297.50h0.98v4.80h-0.98zM364.95 296.80h0.98v5.50h-0.98zM365.93 298.81h0.98v3.49h-0.98zM370.82 296.64h0.98v5.66h-0.98zM371.79 298.78h0.98v3.52h-0.98zM372.77 298.67h0.98v3.63h-0.98zM382.80 296.96h1.03v5.34h-1.03zM383.83 296.52h1.03v5.78h-1.03zM387.94 296.77h1.03v5.53h-1.03zM388.97 297.31h1.03v4.99h-1.03zM392.91 295.74h1.01v6.56h-1.01zM393.92 297.28h1.01v5.02h-1.01zM401.98 295.33h1.01v6.97h-1.01zM406.25 295.33h0.99v6.97h-0.99zM407.24 296.08h0.99v6.22h-0.99zM410.20 295.19h0.99v7.11h-0.99zM415.14 297.68h0.99v4.62h-0.99zM420.00 298.21h0.96v4.09h-0.96zM422.88 295.12h0.96v7.18h-0.96zM424.79 294.98h0.96v7.32h-0.96zM429.58 299.03h0.96v3.27h-0.96zM432.75 297.55h1.06v4.75h-1.06zM445.03 296.70h0.96v5.60h-0.96zM455.38 297.66h0.98v4.64h-0.98zM460.27 296.97h0.98v5.33h-0.98zM465.14 296.55h1.02v5.75h-1.02zM466.16 295.11h1.02v7.19h-1.02zM470.23 296.17h1.02v6.13h-1.02zM475.75 299.27h1.00v3.03h-1.00zM476.75 298.89h1.00v3.41h-1.00zM478.75 299.17h1.00v3.13h-1.00zM480.75 300.35h1.00v1.95h-1.00zM482.75 298.93h1.00v3.37h-1.00zM484.75 299.95h1.00v2.35h-1.00zM485.75 298.83h1.00v3.47h-1.00zM486.75 300.94h1.00v1.36h-1.00zM489.75 298.67h1.00v3.63h-1.00zM495.60 300.87h0.98v1.43h-0.98zM498.53 301.00h0.98v1.30h-0.98z" fill="#7888b8"/>
<path d="M33.00 299.33h0.99v2.97h-0.99zM33.99 300.42h0.99v1.88h-0.99zM34.99 300.22h0.99v2.08h-0.99zM35.98 298.18h0.99v4.12h-0.99zM36.97 300.30h0.99v2.00h-0.99zM37.96 297.59h0.99v4.71h-0.99zM38.96 299.25h0.99v3.05h-0.99zM39.95 299.67h0.99v2.63h-0.99zM40.94 299.03h0.99v3.27h-0.99zM41.93 300.06h0.99v2.24h-0.99zM42.93 297.72h0.99v4.58h-0.99zM43.92 300.02h0.99v2.28h-0.99zM44.91 297.16h0.99v5.14h-0.99zM45.90 300.29h0.99v2.01h-0.99zM46.90 299.45h0.99v2.85h-0.99zM49.88 298.87h0.99v3.43h-0.99zM50.87 300.48h0.99v1.82h-0.99zM51.86 299.17h0.99v3.13h-0.99zM52.85 297.82h0.99v4.48h-0.99zM53.85 297.09h0.99v5.21h-0.99zM54.84 297.57h0.99v4.73h-0.99zM55.83 300.27h0.99v2.03h-0.99zM56.82 297.98h0.99v4.32h-0.99zM57.82 298.53h0.99v3.77h-0.99zM58.81 299.49h0.99v2.81h-0.99zM59.80 300.17h0.99v2.13h-0.99zM60.79 299.43h0.99v2.87h-0.99zM61.79 299.77h0.99v2.53h-0.99zM62.78 299.90h0.99v2.40h-0.99zM63.77 300.25h0.99v2.05h-0.99zM64.76 297.05h0.99v5.25h-0.99zM65.76 297.88h0.99v4.42h-0.99zM68.60 298.23h1.00v4.07h-1.00zM69.60 297.46h1.00v4.84h-1.00zM70.59 299.91h1.00v2.39h-1.00zM71.59 299.03h1.00v3.27h-1.00zM72.59 299.35h1.00v2.95h-1.00zM73.58 299.96h1.00v2.34h-1.00zM74.58 299.38h1.00v2.92h-1.00zM75.58 299.45h1.00v2.85h-1.00zM76.58 297.76h1.00v4.54h-1.00zM77.57 298.24h1.00v4.06h-1.00zM78.57 297.70h1.00v4.60h-1.00zM79.57 295.30h1.00v7.00h-1.00zM80.56 299.10h1.00v3.20h-1.00zM81.56 297.85h1.00v4.45h-1.00zM82.56 297.59h1.00v4.71h-1.00zM83.55 298.79h1.00v3.51h-1.00zM84.55 298.81h1.00v3.49h-1.00zM85.55 294.80h1.00v7.50h-1.00zM86.55 299.21h1.00v3.09h-1.00zM87.54 299.63h1.00v2.67h-1.00zM88.54 299.37h1.00v2.93h-1.00zM89.54 298.27h1.00v4.03h-1.00zM90.53 299.13h1.00v3.17h-1.00zM91.53 297.89h1.00v4.41h-1.00zM92.53 297.69h1.00v4.61h-1.00zM93.52 298.47h1.00v3.83h-1.00zM94.52 297.31h1.00v4.99h-1.00zM95.52 299.68h1.00v2.62h-1.00zM96.52 297.32h1.00v4.98h-1.00zM97.51 300.18h1.00v2.12h-1.00zM98.51 298.87h1.00v3.43h-1.00zM99.51 299.93h1.00v2.37h-1.00zM100.50 298.81h1.00v3.49h-1.00zM103.50 298.41h1.00v3.89h-1.00zM104.50 299.83h1.00v2.47h-1.00zM105.51 298.91h1.00v3.39h-1.00zM106.51 298.34h1.00v3.96h-1.00zM107.51 297.79h1.00v4.51h-1.00zM108.52 298.34h1.00v3.96h-1.00zM109.52 298.99h1.00v3.31h-1.00zM110.53 299.11h1.00v3.19h-1.00zM111.53 296.30h1.00v6.00h-1.00zM112.53 297.98h1.00v4.32h-1.00zM113.54 298.44h1.00v3.86h-1.00zM114.54 299.08h1.00v3.22h-1.00zM115.54 300.41h1.00v1.89h-1.00zM116.55 299.01h1.00v3.29h-1.00zM117.55 297.61h1.00v4.69h-1.00zM118.56 300.10h1.00v2.20h-1.00zM119.56 298.09h1.00v4.21h-1.00zM120.56 296.61h1.00v5.69h-1.00zM121.57 300.45h1.00v1.85h-1.00zM122.57 299.38h1.00v2.92h-1.00zM123.57 299.60h1.00v2.70h-1.00zM124.58 298.82h1.00v3.48h-1.00zM125.58 300.03h1.00v2.27h-1.00zM126.59 298.06h1.00v4.24h-1.00zM127.59 298.48h1.00v3.82h-1.00zM128.59 299.22h1.00v3.08h-1.00zM129.60 297.47h1.00v4.83h-1.00zM132.25 297.90h1.01v4.40h-1.01zM133.26 299.91h1.01v2.39h-1.01zM134.27 299.50h1.01v2.80h-1.01zM135.28 299.09h1.01v3.21h-1.01zM136.29 297.31h1.01v4.99h-1.01zM137.30 299.43h1.01v2.87h-1.01zM138.31 299.29h1.01v3.01h-1.01zM139.32 296.85h1.01v5.45h-1.01zM140.33 297.97h1.01v4.33h-1.01zM141.34 299.62h1.01v2.68h-1.01zM142.35 295.30h1.01v7.00h-1.01zM143.36 298.57h1.01v3.73h-1.01zM144.37 298.46h1.01v3.84h-1.01zM145.38 297.33h1.01v4.97h-1.01zM146.38 298.35h1.01v3.95h-1.01zM147.39 298.74h1.01v3.56h-1.01zM148.40 300.11h1.01v2.19h-1.01zM149.41 297.82h1.01v4.48h-1.01zM150.42 298.11h1.01v4.19h-1.01zM151.43 296.59h1.01v5.71h-1.01zM152.44 297.26h1.01v5.04h-1.01zM153.45 300.09h1.01v2.21h-1.01zM154.46 298.41h1.01v3.89h-1.01zM155.47 298.08h1.01v4.22h-1.01zM156.48 298.01h1.01v4.29h-1.01zM157.49 297.80h1.01v4.50h-1.01zM160.00 297.64h1.00v4.66h-1.00zM161.00 300.02h1.00v2.28h-1.00zM162.00 299.02h1.00v3.28h-1.00zM163.00 298.56h1.00v3.74h-1.00zM164.00 295.80h1.00v6.50h-1.00zM165.00 295.80h1.00v6.50h-1.00zM166.00 298.11h1.00v4.19h-1.00zM167.00 298.10h1.00v4.20h-1.00zM168.00 299.00h1.00v3.30h-1.00zM169.00 300.26h1.00v2.04h-1.00zM170.00 298.40h1.00v3.90h-1.00zM171.00 298.80h1.00v3.50h-1.00zM172.00 300.30h1.00v2.00h-1.00zM173.00 297.58h1.00v4.72h-1.00zM174.00 297.52h1.00v4.78h-1.00zM175.00 299.36h1.00v2.94h-1.00zM176.00 297.97h1.00v4.33h-1.00zM177.00 297.30h1.00v5.00h-1.00zM178.00 297.47h1.00v4.83h-1.00zM179.00 298.83h1.00v3.47h-1.00zM180.00 298.86h1.00v3.44h-1.00zM181.00 296.89h1.00v5.41h-1.00zM182.00 298.60h1.00v3.70h-1.00zM183.00 297.65h1.00v4.65h-1.00zM184.00 298.44h1.00v3.86h-1.00zM186.90 299.87h1.02v2.43h-1.02zM187.92 297.16h1.02v5.14h-1.02zM188.93 299.50h1.02v2.80h-1.02zM189.95 297.61h1.02v4.69h-1.02zM190.96 298.33h1.02v3.97h-1.02zM191.98 298.09h1.02v4.21h-1.02zM192.99 297.28h1.02v5.02h-1.02zM194.01 299.97h1.02v2.33h-1.02zM195.02 300.06h1.02v2.24h-1.02zM196.04 299.36h1.02v2.94h-1.02zM197.05 297.74h1.02v4.56h-1.02zM198.07 297.82h1.02v4.48h-1.02zM199.08 300.01h1.02v2.29h-1.02zM200.10 297.82h1.02v4.48h-1.02zM201.11 298.24h1.02v4.06h-1.02zM202.13 298.08h1.02v4.22h-1.02zM203.14 296.68h1.02v5.62h-1.02zM204.16 300.30h1.02v2.00h-1.02zM205.17 298.23h1.02v4.07h-1.02zM206.19 297.84h1.02v4.46h-1.02zM207.20 299.49h1.02v2.81h-1.02zM208.22 298.67h1.02v3.63h-1.02zM209.23 298.58h1.02v3.72h-1.02zM211.90 297.20h0.98v5.10h-0.98zM212.88 298.42h0.98v3.88h-0.98zM213.86 298.08h0.98v4.22h-0.98zM214.85 299.42h0.98v2.88h-0.98zM215.83 300.23h0.98v2.07h-0.98zM216.81 299.30h0.98v3.00h-0.98zM217.79 297.46h0.98v4.84h-0.98zM218.77 298.85h0.98v3.45h-0.98zM219.75 297.98h0.98v4.32h-0.98zM220.74 298.19h0.98v4.11h-0.98zM221.72 294.80h0.98v7.50h-0.98zM222.70 297.45h0.98v4.85h-0.98zM223.68 298.40h0.98v3.90h-0.98zM224.66 298.58h0.98v3.72h-0.98zM225.65 298.77h0.98v3.53h-0.98zM226.63 298.36h0.98v3.94h-0.98zM227.61 300.17h0.98v2.13h-0.98zM228.59 300.30h0.98v2.00h-0.98zM229.57 298.64h0.98v3.66h-0.98zM230.55 297.79h0.98v4.51h-0.98zM231.54 298.92h0.98v3.38h-0.98zM232.52 298.84h0.98v3.46h-0.98zM235.60 298.69h0.98v3.61h-0.98zM236.58 297.83h0.98v4.47h-0.98zM237.57 297.68h0.98v4.62h-0.98zM238.55 298.69h0.98v3.61h-0.98zM239.53 298.84h0.98v3.46h-0.98zM240.52 300.08h0.98v2.22h-0.98zM241.50 298.75h0.98v3.55h-0.98zM242.48 300.11h0.98v2.19h-0.98zM243.47 299.72h0.98v2.58h-0.98zM244.45 297.16h0.98v5.14h-0.98zM245.43 298.59h0.98v3.71h-0.98zM246.42 300.08h0.98v2.22h-0.98zM247.40 298.51h0.98v3.79h-0.98zM248.38 298.09h0.98v4.21h-0.98zM249.37 297.75h0.98v4.55h-0.98zM250.35 297.92h0.98v4.38h-0.98zM251.33 298.34h0.98v3.96h-0.98zM252.32 298.45h0.98v3.85h-0.98zM253.30 297.98h0.98v4.32h-0.98zM254.28 298.50h0.98v3.80h-0.98zM255.27 298.47h0.98v3.83h-0.98zM257.75 297.17h0.99v5.13h-0.99zM258.74 299.75h0.99v2.55h-0.99zM259.73 298.33h0.99v3.97h-0.99zM260.71 298.75h0.99v3.55h-0.99zM261.70 298.28h0.99v4.02h-0.99zM262.69 297.35h0.99v4.95h-0.99zM263.68 298.02h0.99v4.28h-0.99zM266.64 298.95h0.99v3.35h-0.99zM267.62 298.70h0.99v3.60h-0.99zM268.61 297.30h0.99v5.00h-0.99zM269.60 298.14h0.99v4.16h-0.99zM270.59 298.45h0.99v3.85h-0.99zM271.57 297.73h0.99v4.57h-0.99zM272.56 298.69h0.99v3.61h-0.99zM273.55 299.35h0.99v2.95h-0.99zM274.54 298.32h0.99v3.98h-0.99zM275.52 300.03h0.99v2.27h-0.99zM276.51 297.81h0.99v4.49h-0.99zM279.40 300.16h0.98v2.14h-0.98zM280.38 299.20h0.98v3.10h-0.98zM281.37 297.64h0.98v4.66h-0.98zM282.35 298.32h0.98v3.98h-0.98zM283.34 300.10h0.98v2.20h-0.98zM284.32 300.12h0.98v2.18h-0.98zM285.31 298.13h0.98v4.17h-0.98zM286.29 297.28h0.98v5.02h-0.98zM287.27 300.25h0.98v2.05h-0.98zM288.26 297.31h0.98v4.99h-0.98zM289.24 297.47h0.98v4.83h-0.98zM290.23 300.05h0.98v2.25h-0.98zM291.21 299.67h0.98v2.63h-0.98zM292.19 297.29h0.98v5.01h-0.98zM293.18 296.67h0.98v5.63h-0.98zM294.16 299.93h0.98v2.37h-0.98zM295.15 298.88h0.98v3.42h-0.98zM296.13 297.08h0.98v5.22h-0.98zM297.12 297.33h0.98v4.97h-0.98zM300.00 298.22h0.99v4.08h-0.99zM300.99 299.14h0.99v3.16h-0.99zM301.97 296.74h0.99v5.56h-0.99zM302.96 300.09h0.99v2.21h-0.99zM303.95 297.85h0.99v4.45h-0.99zM304.93 296.75h0.99v5.55h-0.99zM305.92 298.84h0.99v3.46h-0.99zM306.91 299.41h0.99v2.89h-0.99zM307.89 297.27h0.99v5.03h-0.99zM308.88 297.33h0.99v4.97h-0.99zM309.87 298.07h0.99v4.23h-0.99zM310.86 298.15h0.99v4.15h-0.99zM311.84 297.06h0.99v5.24h-0.99zM312.83 297.02h0.99v5.28h-0.99zM313.82 297.40h0.99v4.90h-0.99zM314.80 299.47h0.99v2.83h-0.99zM315.79 297.88h0.99v4.42h-0.99zM316.78 298.81h0.99v3.49h-0.99zM317.76 298.48h0.99v3.82h-0.99zM320.00 297.51h1.00v4.79h-1.00zM321.00 297.61h1.00v4.69h-1.00zM322.00 299.58h1.00v2.72h-1.00zM323.00 300.15h1.00v2.15h-1.00zM324.00 297.89h1.00v4.41h-1.00zM325.00 299.08h1.00v3.22h-1.00zM326.00 297.37h1.00v4.93h-1.00zM327.00 300.02h1.00v2.28h-1.00zM328.00 296.88h1.00v5.42h-1.00zM329.00 297.25h1.00v5.05h-1.00zM330.00 298.46h1.00v3.84h-1.00zM331.00 298.79h1.00v3.51h-1.00zM332.00 300.01h1.00v2.29h-1.00zM333.00 299.42h1.00v2.88h-1.00zM334.00 299.73h1.00v2.57h-1.00zM335.00 299.38h1.00v2.92h-1.00zM336.00 299.42h1.00v2.88h-1.00zM337.00 299.26h1.00v3.04h-1.00zM338.00 298.20h1.00v4.10h-1.00zM340.60 297.31h0.98v4.99h-0.98zM341.58 300.00h0.98v2.30h-0.98zM342.56 297.34h0.98v4.96h-0.98zM343.53 296.96h0.98v5.34h-0.98zM344.51 297.63h0.98v4.67h-0.98zM345.49 297.42h0.98v4.88h-0.98zM346.47 297.92h0.98v4.38h-0.98zM347.45 299.60h0.98v2.70h-0.98zM348.43 300.50h0.98v1.80h-0.98zM349.40 297.16h0.98v5.14h-0.98zM350.38 300.08h0.98v2.22h-0.98zM351.36 297.73h0.98v4.57h-0.98zM352.34 299.86h0.98v2.44h-0.98zM353.32 299.98h0.98v2.32h-0.98zM354.29 299.40h0.98v2.90h-0.98zM355.27 298.03h0.98v4.27h-0.98zM358.10 297.07h0.98v5.23h-0.98zM359.08 296.97h0.98v5.33h-0.98zM360.06 298.15h0.98v4.15h-0.98zM361.03 298.57h0.98v3.73h-0.98zM362.01 300.45h0.98v1.85h-0.98zM362.99 298.87h0.98v3.43h-0.98zM363.97 299.60h0.98v2.70h-0.98zM364.95 297.49h0.98v4.81h-0.98zM365.93 299.66h0.98v2.64h-0.98zM366.90 298.87h0.98v3.43h-0.98zM367.88 300.00h0.98v2.30h-0.98zM368.86 300.28h0.98v2.02h-0.98zM369.84 300.46h0.98v1.84h-0.98zM370.82 296.74h0.98v5.56h-0.98zM371.79 299.64h0.98v2.66h-0.98zM372.77 300.06h0.98v2.24h-0.98zM375.60 298.58h1.03v3.72h-1.03zM376.63 297.42h1.03v4.88h-1.03zM377.66 299.15h1.03v3.15h-1.03zM378.69 298.96h1.03v3.34h-1.03zM379.71 298.17h1.03v4.13h-1.03zM380.74 297.23h1.03v5.07h-1.03zM381.77 299.29h1.03v3.01h-1.03zM382.80 298.53h1.03v3.77h-1.03zM383.83 297.28h1.03v5.02h-1.03zM384.86 300.36h1.03v1.94h-1.03zM385.89 298.55h1.03v3.75h-1.03zM386.91 300.10h1.03v2.20h-1.03zM387.94 296.90h1.03v5.40h-1.03zM388.97 297.40h1.03v4.90h-1.03zM391.90 299.23h1.01v3.07h-1.01zM392.91 297.46h1.01v4.84h-1.01zM393.92 298.84h1.01v3.46h-1.01zM394.92 299.28h1.01v3.02h-1.01zM395.93 295.80h1.01v6.50h-1.01zM396.94 299.66h1.01v2.64h-1.01zM397.95 298.41h1.01v3.89h-1.01zM398.96 300.10h1.01v2.20h-1.01zM399.97 298.78h1.01v3.52h-1.01zM400.98 300.43h1.01v1.87h-1.01zM401.98 296.81h1.01v5.49h-1.01zM402.99 297.34h1.01v4.96h-1.01zM406.25 296.90h0.99v5.40h-0.99zM407.24 297.49h0.99v4.81h-0.99zM408.23 299.63h0.99v2.67h-0.99zM409.21 299.68h0.99v2.62h-0.99zM410.20 297.53h0.99v4.77h-0.99zM411.19 298.49h0.99v3.81h-0.99zM412.18 298.60h0.99v3.70h-0.99zM413.16 298.69h0.99v3.61h-0.99zM414.15 298.73h0.99v3.57h-0.99zM415.14 299.49h0.99v2.81h-0.99zM416.12 299.29h0.99v3.01h-0.99zM417.11 298.66h0.99v3.64h-0.99zM420.00 299.69h0.96v2.61h-0.96zM420.96 298.33h0.96v3.97h-0.96zM421.92 297.91h0.96v4.39h-0.96zM422.88 297.61h0.96v4.69h-0.96zM423.83 298.96h0.96v3.34h-0.96zM424.79 297.05h0.96v5.25h-0.96zM425.75 297.82h0.96v4.48h-0.96zM426.71 299.71h0.96v2.59h-0.96zM427.67 298.49h0.96v3.81h-0.96zM428.62 299.05h0.96v3.25h-0.96zM429.58 299.47h0.96v2.83h-0.96zM430.54 300.29h0.96v2.01h-0.96zM432.75 297.60h1.06v4.70h-1.06zM433.81 298.69h1.06v3.61h-1.06zM434.88 299.77h1.06v2.53h-1.06zM435.94 297.53h1.06v4.77h-1.06zM437.00 299.24h1.06v3.06h-1.06zM438.06 299.90h1.06v2.40h-1.06zM439.12 299.54h1.06v2.76h-1.06zM440.19 299.08h1.06v3.22h-1.06zM443.10 298.34h0.96v3.96h-0.96zM444.06 299.66h0.96v2.64h-0.96zM445.03 298.84h0.96v3.46h-0.96zM446.00 298.47h0.96v3.83h-0.96zM446.96 299.64h0.96v2.66h-0.96zM447.93 298.66h0.96v3.64h-0.96zM448.89 297.83h0.96v4.47h-0.96zM449.86 298.37h0.96v3.93h-0.96zM450.82 300.48h0.96v1.82h-0.96zM451.79 299.32h0.96v2.98h-0.96zM454.40 298.27h0.98v4.03h-0.98zM455.38 299.54h0.98v2.76h-0.98zM456.36 294.30h0.98v8.00h-0.98zM457.34 300.10h0.98v2.20h-0.98zM458.31 299.70h0.98v2.60h-0.98zM459.29 298.12h0.98v4.18h-0.98zM460.27 298.66h0.98v3.64h-0.98zM463.10 299.74h1.02v2.56h-1.02zM464.12 299.85h1.02v2.45h-1.02zM465.14 298.62h1.02v3.68h-1.02zM466.16 296.92h1.02v5.38h-1.02zM467.18 299.80h1.02v2.50h-1.02zM468.19 297.36h1.02v4.94h-1.02zM469.21 299.73h1.02v2.57h-1.02zM470.23 298.11h1.02v4.19h-1.02zM472.75 299.21h1.00v3.09h-1.00zM473.75 301.19h1.00v1.11h-1.00zM474.75 299.50h1.00v2.80h-1.00zM475.75 300.13h1.00v2.17h-1.00zM476.75 299.88h1.00v2.42h-1.00zM477.75 299.88h1.00v2.42h-1.00zM478.75 299.58h1.00v2.72h-1.00zM479.75 301.26h1.00v1.04h-1.00zM480.75 300.81h1.00v1.49h-1.00zM481.75 301.08h1.00v1.22h-1.00zM482.75 299.47h1.00v2.83h-1.00zM483.75 301.17h1.00v1.13h-1.00zM484.75 301.09h1.00v1.21h-1.00zM485.75 299.93h1.00v2.37h-1.00zM486.75 301.21h1.00v1.09h-1.00zM487.75 300.92h1.00v1.38h-1.00zM488.75 300.30h1.00v2.00h-1.00zM489.75 299.49h1.00v2.81h-1.00zM490.75 300.75h1.00v1.55h-1.00zM491.75 300.66h1.00v1.64h-1.00zM492.75 299.91h1.00v2.39h-1.00zM495.60 301.23h0.98v1.07h-0.98zM496.58 301.77h0.98v0.53h-0.98zM497.56 292.30h0.98v10.00h-0.98zM498.53 301.41h0.98v0.89h-0.98zM499.51 301.04h0.98v1.26h-0.98zM500.49 301.13h0.98v1.17h-0.98zM501.47 301.72h0.98v0.58h-0.98zM502.44 301.61h0.98v0.69h-0.98zM503.42 301.50h0.98v0.80h-0.98z" fill="#27468a"/>
<rect x="33.00" y="302.30" width="33.75" height="9.9" fill="#80a8da"/>
<rect x="33.00" y="306.45" width="33.75" height="2.0" fill="#2c5a92"/>
<text x="49.88" y="318.40" class="cl">1</text>
<rect x="68.60" y="302.30" width="32.90" height="9.9" fill="#80a8da"/>
<rect x="68.60" y="306.45" width="32.90" height="2.0" fill="#2c5a92"/>
<text x="85.05" y="318.40" class="cl">2</text>
<rect x="103.50" y="302.30" width="27.10" height="9.9" fill="#80a8da"/>
<rect x="103.50" y="306.45" width="27.10" height="2.0" fill="#2c5a92"/>
<text x="117.05" y="318.40" class="cl">3</text>
<rect x="132.25" y="302.30" width="26.25" height="9.9" fill="#80a8da"/>
<rect x="132.25" y="306.45" width="26.25" height="2.0" fill="#2c5a92"/>
<text x="145.38" y="318.40" class="cl">4</text>
<rect x="160.00" y="302.30" width="25.00" height="9.9" fill="#80a8da"/>
<rect x="160.00" y="306.45" width="25.00" height="2.0" fill="#2c5a92"/>
<text x="172.50" y="318.40" class="cl">5</text>
<rect x="186.90" y="302.30" width="23.35" height="9.9" fill="#80a8da"/>
<rect x="186.90" y="306.45" width="23.35" height="2.0" fill="#2c5a92"/>
<text x="198.57" y="318.40" class="cl">6</text>
<rect x="211.90" y="302.30" width="21.60" height="9.9" fill="#80a8da"/>
<rect x="211.90" y="306.45" width="21.60" height="2.0" fill="#2c5a92"/>
<text x="222.70" y="318.40" class="cl">7</text>
<rect x="235.60" y="302.30" width="20.65" height="9.9" fill="#80a8da"/>
<rect x="235.60" y="306.45" width="20.65" height="2.0" fill="#2c5a92"/>
<text x="245.93" y="318.40" class="cl">8</text>
<rect x="257.75" y="302.30" width="19.75" height="9.9" fill="#80a8da"/>
<rect x="257.75" y="306.45" width="19.75" height="2.0" fill="#2c5a92"/>
<text x="267.62" y="318.40" class="cl">9</text>
<rect x="279.40" y="302.30" width="18.70" height="9.9" fill="#80a8da"/>
<rect x="279.40" y="306.45" width="18.70" height="2.0" fill="#2c5a92"/>
<text x="288.75" y="318.40" class="cl">10</text>
<rect x="300.00" y="302.30" width="18.75" height="9.9" fill="#80a8da"/>
<rect x="300.00" y="306.45" width="18.75" height="2.0" fill="#2c5a92"/>
<text x="309.38" y="318.40" class="cl">11</text>
<rect x="320.00" y="302.30" width="19.00" height="9.9" fill="#80a8da"/>
<rect x="320.00" y="306.45" width="19.00" height="2.0" fill="#2c5a92"/>
<text x="329.50" y="318.40" class="cl">12</text>
<rect x="340.60" y="302.30" width="15.65" height="9.9" fill="#80a8da"/>
<rect x="340.60" y="306.45" width="15.65" height="2.0" fill="#2c5a92"/>
<text x="348.43" y="318.40" class="cl">13</text>
<rect x="358.10" y="302.30" width="15.65" height="9.9" fill="#80a8da"/>
<rect x="358.10" y="306.45" width="15.65" height="2.0" fill="#2c5a92"/>
<text x="365.93" y="318.40" class="cl">14</text>
<rect x="375.60" y="302.30" width="14.40" height="9.9" fill="#80a8da"/>
<rect x="375.60" y="306.45" width="14.40" height="2.0" fill="#2c5a92"/>
<text x="382.80" y="318.40" class="cl">15</text>
<rect x="391.90" y="302.30" width="12.10" height="9.9" fill="#80a8da"/>
<rect x="391.90" y="306.45" width="12.10" height="2.0" fill="#2c5a92"/>
<text x="397.95" y="318.40" class="cl">16</text>
<rect x="406.25" y="302.30" width="11.85" height="9.9" fill="#80a8da"/>
<rect x="406.25" y="306.45" width="11.85" height="2.0" fill="#2c5a92"/>
<text x="412.18" y="318.40" class="cl">17</text>
<rect x="420.00" y="302.30" width="11.50" height="9.9" fill="#80a8da"/>
<rect x="420.00" y="306.45" width="11.50" height="2.0" fill="#2c5a92"/>
<text x="425.75" y="318.40" class="cl">18</text>
<rect x="432.75" y="302.30" width="8.50" height="9.9" fill="#80a8da"/>
<rect x="432.75" y="306.45" width="8.50" height="2.0" fill="#2c5a92"/>
<text x="437.00" y="318.40" class="cl">19</text>
<rect x="443.10" y="302.30" width="9.65" height="9.9" fill="#80a8da"/>
<rect x="443.10" y="306.45" width="9.65" height="2.0" fill="#2c5a92"/>
<text x="447.93" y="318.40" class="cl">20</text>
<rect x="454.40" y="302.30" width="6.85" height="9.9" fill="#80a8da"/>
<rect x="454.40" y="306.45" width="6.85" height="2.0" fill="#2c5a92"/>
<text x="457.82" y="318.40" class="cl">21</text>
<rect x="463.10" y="302.30" width="8.15" height="9.9" fill="#80a8da"/>
<rect x="463.10" y="306.45" width="8.15" height="2.0" fill="#2c5a92"/>
<text x="467.18" y="318.40" class="cl">22</text>
<rect x="472.75" y="302.30" width="21.00" height="9.9" fill="#80a8da"/>
<rect x="472.75" y="306.45" width="21.00" height="2.0" fill="#2c5a92"/>
<text x="483.25" y="318.40" class="cl">X</text>
<rect x="495.60" y="302.30" width="8.80" height="9.9" fill="#80a8da"/>
<rect x="495.60" y="306.45" width="8.80" height="2.0" fill="#2c5a92"/>
<text x="500.00" y="318.40" class="cl">Y</text>
<path d="M508.0 246.85V302.60" stroke="#2a2a2a" stroke-width="1.15" fill="none"/>
<path d="M508.0 302.60h3.8M508.0 291.45h3.8M508.0 280.30h3.8M508.0 269.15h3.8M508.0 258.00h3.8M508.0 246.85h3.8" stroke="#333" stroke-width="1" fill="none"/>
<text transform="translate(519.0 302.60) rotate(-90)" class="al">0</text>
<text transform="translate(519.0 291.45) rotate(-90)" class="al">10</text>
<text transform="translate(519.0 269.15) rotate(-90)" class="al">30</text>
<text transform="translate(519.0 246.85) rotate(-90)" class="al">50</text>
<text transform="translate(30.8 289.00) rotate(-90)" class="pl">Patient 4</text>
<path d="M34.99 373.94h0.99v8.86h-0.99zM36.97 374.14h0.99v8.66h-0.99zM37.96 370.97h0.99v11.83h-0.99zM38.96 365.19h0.99v17.61h-0.99zM39.95 363.74h0.99v19.06h-0.99zM40.94 363.35h0.99v19.45h-0.99zM42.93 357.80h0.99v25.00h-0.99zM47.89 361.26h0.99v21.54h-0.99zM52.85 369.79h0.99v13.01h-0.99zM53.85 372.13h0.99v10.67h-0.99zM59.80 363.75h0.99v19.05h-0.99zM60.79 367.70h0.99v15.10h-0.99zM61.79 351.30h0.99v31.50h-0.99zM65.76 358.69h0.99v24.11h-0.99zM69.60 366.10h1.00v16.70h-1.00zM74.58 370.27h1.00v12.53h-1.00zM78.57 347.80h1.00v35.00h-1.00zM81.56 362.90h1.00v19.90h-1.00zM83.55 353.80h1.00v29.00h-1.00zM86.55 369.73h1.00v13.07h-1.00zM87.54 359.41h1.00v23.39h-1.00zM88.54 358.45h1.00v24.35h-1.00zM90.53 354.20h1.00v28.60h-1.00zM95.52 355.84h1.00v26.96h-1.00zM97.51 366.17h1.00v16.63h-1.00zM98.51 367.20h1.00v15.60h-1.00zM99.51 360.15h1.00v22.65h-1.00zM109.52 364.80h1.00v18.00h-1.00zM111.53 371.81h1.00v10.99h-1.00zM112.53 368.52h1.00v14.28h-1.00zM116.55 364.18h1.00v18.62h-1.00zM122.57 359.19h1.00v23.61h-1.00zM124.58 357.80h1.00v25.00h-1.00zM134.27 361.62h1.01v21.18h-1.01zM136.29 363.29h1.01v19.51h-1.01zM139.32 363.02h1.01v19.78h-1.01zM140.33 348.64h1.01v34.16h-1.01zM141.34 352.38h1.01v30.42h-1.01zM142.35 360.06h1.01v22.74h-1.01zM144.37 351.12h1.01v31.68h-1.01zM145.38 358.68h1.01v24.12h-1.01zM146.38 356.64h1.01v26.16h-1.01zM147.39 356.80h1.01v26.00h-1.01zM148.40 355.32h1.01v27.48h-1.01zM153.45 356.04h1.01v26.76h-1.01zM157.49 356.50h1.01v26.30h-1.01zM164.00 362.68h1.00v20.12h-1.00zM165.00 357.41h1.00v25.39h-1.00zM167.00 365.92h1.00v16.88h-1.00zM170.00 364.87h1.00v17.93h-1.00zM175.00 365.47h1.00v17.33h-1.00zM176.00 366.80h1.00v16.00h-1.00zM177.00 366.80h1.00v16.00h-1.00zM178.00 365.57h1.00v17.23h-1.00zM180.00 358.45h1.00v24.35h-1.00zM188.93 376.88h1.02v5.92h-1.02zM189.95 367.69h1.02v15.11h-1.02zM191.98 368.74h1.02v14.06h-1.02zM194.01 367.33h1.02v15.47h-1.02zM195.02 370.73h1.02v12.07h-1.02zM196.04 361.30h1.02v21.50h-1.02zM198.07 369.04h1.02v13.76h-1.02zM205.17 368.78h1.02v14.02h-1.02zM206.19 367.25h1.02v15.55h-1.02zM207.20 372.62h1.02v10.18h-1.02zM213.86 359.29h0.98v23.51h-0.98zM214.85 355.44h0.98v27.36h-0.98zM215.83 354.38h0.98v28.42h-0.98zM216.81 361.44h0.98v21.36h-0.98zM222.70 347.00h0.98v35.80h-0.98zM223.68 355.92h0.98v26.88h-0.98zM224.66 352.81h0.98v29.99h-0.98zM225.65 358.06h0.98v24.74h-0.98zM228.59 369.23h0.98v13.57h-0.98zM230.55 357.30h0.98v25.50h-0.98zM231.54 360.76h0.98v22.04h-0.98zM232.52 364.75h0.98v18.05h-0.98zM236.58 361.94h0.98v20.86h-0.98zM239.53 364.80h0.98v18.00h-0.98zM242.48 361.88h0.98v20.92h-0.98zM244.45 359.54h0.98v23.26h-0.98zM248.38 369.25h0.98v13.55h-0.98zM250.35 358.00h0.98v24.80h-0.98zM260.71 360.80h0.99v22.00h-0.99zM268.61 373.76h0.99v9.04h-0.99zM270.59 373.39h0.99v9.41h-0.99zM271.57 372.43h0.99v10.37h-0.99zM272.56 370.69h0.99v12.11h-0.99zM284.32 371.60h0.98v11.20h-0.98zM286.29 360.00h0.98v22.80h-0.98zM289.24 368.60h0.98v14.20h-0.98zM290.23 367.96h0.98v14.84h-0.98zM291.21 370.87h0.98v11.93h-0.98zM292.19 368.97h0.98v13.83h-0.98zM294.16 368.72h0.98v14.08h-0.98zM296.13 368.31h0.98v14.49h-0.98zM297.12 369.09h0.98v13.71h-0.98zM304.93 357.21h0.99v25.59h-0.99zM306.91 364.48h0.99v18.32h-0.99zM311.84 361.30h0.99v21.50h-0.99zM314.80 368.26h0.99v14.54h-0.99zM315.79 365.78h0.99v17.02h-0.99zM317.76 357.78h0.99v25.02h-0.99zM320.00 373.08h1.00v9.72h-1.00zM323.00 359.06h1.00v23.74h-1.00zM327.00 358.48h1.00v24.32h-1.00zM336.00 364.80h1.00v18.00h-1.00zM340.60 365.73h0.98v17.07h-0.98zM341.58 366.05h0.98v16.75h-0.98zM342.56 363.00h0.98v19.80h-0.98zM346.47 362.98h0.98v19.82h-0.98zM349.40 353.80h0.98v29.00h-0.98zM350.38 356.61h0.98v26.19h-0.98zM352.34 357.99h0.98v24.81h-0.98zM355.27 365.86h0.98v16.94h-0.98zM358.10 372.31h0.98v10.49h-0.98zM359.08 370.94h0.98v11.86h-0.98zM361.03 367.14h0.98v15.66h-0.98zM362.01 367.16h0.98v15.64h-0.98zM364.95 369.54h0.98v13.26h-0.98zM365.93 373.02h0.98v9.78h-0.98zM369.84 371.08h0.98v11.72h-0.98zM375.60 372.97h1.03v9.83h-1.03zM376.63 370.31h1.03v12.49h-1.03zM380.74 374.76h1.03v8.04h-1.03zM381.77 372.52h1.03v10.28h-1.03zM382.80 370.74h1.03v12.06h-1.03zM386.91 371.44h1.03v11.36h-1.03zM391.90 365.00h1.01v17.80h-1.01zM393.92 376.47h1.01v6.33h-1.01zM410.20 379.18h0.99v3.62h-0.99zM414.15 371.80h0.99v11.00h-0.99zM415.14 376.33h0.99v6.47h-0.99zM421.92 370.73h0.96v12.07h-0.96zM422.88 361.30h0.96v21.50h-0.96zM425.75 362.19h0.96v20.61h-0.96zM426.71 363.51h0.96v19.29h-0.96zM428.62 361.30h0.96v21.50h-0.96zM437.00 376.25h1.06v6.55h-1.06zM439.12 378.65h1.06v4.15h-1.06zM446.96 376.83h0.96v5.97h-0.96zM450.82 376.58h0.96v6.22h-0.96zM454.40 377.04h0.98v5.76h-0.98zM459.29 378.20h0.98v4.60h-0.98zM463.10 376.06h1.02v6.74h-1.02zM474.75 369.14h1.00v13.66h-1.00zM476.75 366.09h1.00v16.71h-1.00zM480.75 375.79h1.00v7.01h-1.00zM482.75 366.67h1.00v16.13h-1.00zM485.75 367.88h1.00v14.92h-1.00zM488.75 363.47h1.00v19.33h-1.00zM495.60 381.86h0.98v0.94h-0.98zM499.51 381.97h0.98v0.83h-0.98zM501.47 382.17h0.98v0.63h-0.98zM502.44 382.10h0.98v0.70h-0.98z" fill="#9a9a9a"/>
<path d="M33.00 377.70h0.99v5.10h-0.99zM33.99 379.80h0.99v3.00h-0.99zM34.99 375.76h0.99v7.04h-0.99zM35.98 377.18h0.99v5.62h-0.99zM36.97 379.05h0.99v3.75h-0.99zM37.96 377.60h0.99v5.20h-0.99zM38.96 366.80h0.99v16.00h-0.99zM39.95 370.13h0.99v12.67h-0.99zM40.94 368.57h0.99v14.23h-0.99zM41.93 372.24h0.99v10.56h-0.99zM42.93 366.74h0.99v16.06h-0.99zM43.92 372.69h0.99v10.11h-0.99zM44.91 362.80h0.99v20.00h-0.99zM45.90 372.28h0.99v10.52h-0.99zM46.90 373.20h0.99v9.60h-0.99zM47.89 367.89h0.99v14.91h-0.99zM51.86 372.40h0.99v10.40h-0.99zM52.85 376.20h0.99v6.60h-0.99zM53.85 373.13h0.99v9.67h-0.99zM54.84 370.44h0.99v12.36h-0.99zM55.83 373.89h0.99v8.91h-0.99zM56.82 366.74h0.99v16.06h-0.99zM57.82 356.30h0.99v26.50h-0.99zM58.81 374.17h0.99v8.63h-0.99zM59.80 363.93h0.99v18.87h-0.99zM60.79 370.95h0.99v11.85h-0.99zM61.79 368.40h0.99v14.40h-0.99zM62.78 376.10h0.99v6.70h-0.99zM63.77 375.54h0.99v7.26h-0.99zM64.76 374.63h0.99v8.17h-0.99zM65.76 369.05h0.99v13.75h-0.99zM68.60 373.53h1.00v9.27h-1.00zM69.60 370.44h1.00v12.36h-1.00zM70.59 375.08h1.00v7.72h-1.00zM71.59 364.80h1.00v18.00h-1.00zM72.59 370.63h1.00v12.17h-1.00zM73.58 376.99h1.00v5.81h-1.00zM74.58 373.34h1.00v9.46h-1.00zM75.58 357.80h1.00v25.00h-1.00zM76.58 374.23h1.00v8.57h-1.00zM77.57 370.86h1.00v11.94h-1.00zM78.57 370.91h1.00v11.89h-1.00zM79.57 367.87h1.00v14.93h-1.00zM80.56 376.62h1.00v6.18h-1.00zM81.56 366.30h1.00v16.50h-1.00zM82.56 373.47h1.00v9.33h-1.00zM83.55 368.84h1.00v13.96h-1.00zM84.55 367.62h1.00v15.18h-1.00zM85.55 372.47h1.00v10.33h-1.00zM86.55 374.22h1.00v8.58h-1.00zM87.54 360.80h1.00v22.00h-1.00zM88.54 361.30h1.00v21.50h-1.00zM89.54 369.53h1.00v13.27h-1.00zM90.53 361.09h1.00v21.71h-1.00zM91.53 362.80h1.00v20.00h-1.00zM92.53 366.72h1.00v16.08h-1.00zM93.52 371.84h1.00v10.96h-1.00zM94.52 369.16h1.00v13.64h-1.00zM95.52 365.73h1.00v17.07h-1.00zM96.52 367.24h1.00v15.56h-1.00zM97.51 367.48h1.00v15.32h-1.00zM98.51 376.60h1.00v6.20h-1.00zM99.51 367.72h1.00v15.08h-1.00zM100.50 373.57h1.00v9.23h-1.00zM103.50 379.52h1.00v3.28h-1.00zM104.50 377.68h1.00v5.12h-1.00zM105.51 376.48h1.00v6.32h-1.00zM106.51 376.07h1.00v6.73h-1.00zM107.51 377.80h1.00v5.00h-1.00zM108.52 375.68h1.00v7.12h-1.00zM109.52 374.87h1.00v7.93h-1.00zM110.53 376.89h1.00v5.91h-1.00zM111.53 372.69h1.00v10.11h-1.00zM112.53 370.34h1.00v12.46h-1.00zM113.54 351.30h1.00v31.50h-1.00zM114.54 376.32h1.00v6.48h-1.00zM115.54 376.81h1.00v5.99h-1.00zM116.55 369.06h1.00v13.74h-1.00zM117.55 362.80h1.00v20.00h-1.00zM118.56 372.15h1.00v10.65h-1.00zM119.56 375.55h1.00v7.25h-1.00zM120.56 372.79h1.00v10.01h-1.00zM121.57 375.50h1.00v7.30h-1.00zM122.57 368.14h1.00v14.66h-1.00zM123.57 373.43h1.00v9.37h-1.00zM124.58 369.60h1.00v13.20h-1.00zM125.58 369.90h1.00v12.90h-1.00zM126.59 375.55h1.00v7.25h-1.00zM127.59 370.81h1.00v11.99h-1.00zM128.59 371.91h1.00v10.89h-1.00zM129.60 373.60h1.00v9.20h-1.00zM132.25 370.28h1.01v12.52h-1.01zM133.26 366.90h1.01v15.90h-1.01zM134.27 365.71h1.01v17.09h-1.01zM135.28 357.80h1.01v25.00h-1.01zM136.29 375.42h1.01v7.38h-1.01zM137.30 371.74h1.01v11.06h-1.01zM138.31 367.73h1.01v15.07h-1.01zM139.32 363.47h1.01v19.33h-1.01zM140.33 362.75h1.01v20.05h-1.01zM141.34 363.24h1.01v19.56h-1.01zM142.35 367.92h1.01v14.88h-1.01zM143.36 371.54h1.01v11.26h-1.01zM144.37 364.84h1.01v17.96h-1.01zM145.38 373.47h1.01v9.33h-1.01zM146.38 360.94h1.01v21.86h-1.01zM147.39 365.26h1.01v17.54h-1.01zM148.40 360.05h1.01v22.75h-1.01zM149.41 353.30h1.01v29.50h-1.01zM150.42 365.73h1.01v17.07h-1.01zM151.43 367.58h1.01v15.22h-1.01zM152.44 371.48h1.01v11.32h-1.01zM153.45 360.72h1.01v22.08h-1.01zM154.46 358.80h1.01v24.00h-1.01zM155.47 371.76h1.01v11.04h-1.01zM156.48 370.23h1.01v12.57h-1.01zM157.49 360.54h1.01v22.26h-1.01zM160.00 369.71h1.00v13.09h-1.00zM161.00 356.30h1.00v26.50h-1.00zM162.00 363.36h1.00v19.44h-1.00zM163.00 356.80h1.00v26.00h-1.00zM164.00 366.88h1.00v15.92h-1.00zM165.00 363.56h1.00v19.24h-1.00zM166.00 373.37h1.00v9.43h-1.00zM167.00 374.54h1.00v8.26h-1.00zM168.00 372.26h1.00v10.54h-1.00zM169.00 375.98h1.00v6.82h-1.00zM170.00 370.30h1.00v12.50h-1.00zM171.00 372.79h1.00v10.01h-1.00zM172.00 373.29h1.00v9.51h-1.00zM173.00 374.87h1.00v7.93h-1.00zM174.00 373.04h1.00v9.76h-1.00zM175.00 372.98h1.00v9.82h-1.00zM176.00 371.28h1.00v11.52h-1.00zM177.00 370.80h1.00v12.00h-1.00zM178.00 368.45h1.00v14.35h-1.00zM179.00 371.04h1.00v11.76h-1.00zM180.00 365.87h1.00v16.93h-1.00zM181.00 361.30h1.00v21.50h-1.00zM182.00 361.30h1.00v21.50h-1.00zM183.00 372.68h1.00v10.12h-1.00zM184.00 369.53h1.00v13.27h-1.00zM186.90 378.93h1.02v3.87h-1.02zM187.92 375.64h1.02v7.16h-1.02zM188.93 377.94h1.02v4.86h-1.02zM189.95 372.58h1.02v10.22h-1.02zM190.96 373.79h1.02v9.01h-1.02zM191.98 370.24h1.02v12.56h-1.02zM192.99 376.85h1.02v5.95h-1.02zM194.01 373.24h1.02v9.56h-1.02zM195.02 374.26h1.02v8.54h-1.02zM196.04 372.42h1.02v10.38h-1.02zM197.05 373.21h1.02v9.59h-1.02zM198.07 374.36h1.02v8.44h-1.02zM199.08 365.80h1.02v17.00h-1.02zM200.10 373.74h1.02v9.06h-1.02zM201.11 370.14h1.02v12.66h-1.02zM202.13 377.46h1.02v5.34h-1.02zM203.14 375.43h1.02v7.37h-1.02zM204.16 368.80h1.02v14.00h-1.02zM205.17 370.66h1.02v12.14h-1.02zM206.19 372.24h1.02v10.56h-1.02zM207.20 374.37h1.02v8.43h-1.02zM208.22 375.32h1.02v7.48h-1.02zM209.23 375.52h1.02v7.28h-1.02zM211.90 369.75h0.98v13.05h-0.98zM212.88 369.36h0.98v13.44h-0.98zM213.86 362.60h0.98v20.20h-0.98zM214.85 364.43h0.98v18.37h-0.98zM215.83 367.06h0.98v15.74h-0.98zM216.81 361.75h0.98v21.05h-0.98zM217.79 360.80h0.98v22.00h-0.98zM218.77 371.75h0.98v11.05h-0.98zM219.75 374.78h0.98v8.02h-0.98zM220.74 369.71h0.98v13.09h-0.98zM221.72 370.15h0.98v12.65h-0.98zM222.70 359.15h0.98v23.65h-0.98zM223.68 359.68h0.98v23.12h-0.98zM224.66 358.80h0.98v24.00h-0.98zM225.65 372.05h0.98v10.75h-0.98zM226.63 373.83h0.98v8.97h-0.98zM227.61 357.00h0.98v25.80h-0.98zM228.59 372.24h0.98v10.56h-0.98zM229.57 375.03h0.98v7.77h-0.98zM230.55 365.60h0.98v17.20h-0.98zM231.54 369.37h0.98v13.43h-0.98zM232.52 366.77h0.98v16.03h-0.98zM235.60 370.72h0.98v12.08h-0.98zM236.58 367.80h0.98v15.00h-0.98zM237.57 374.16h0.98v8.64h-0.98zM238.55 376.50h0.98v6.30h-0.98zM239.53 368.74h0.98v14.06h-0.98zM240.52 367.32h0.98v15.48h-0.98zM241.50 365.18h0.98v17.62h-0.98zM242.48 364.44h0.98v18.36h-0.98zM243.47 372.51h0.98v10.29h-0.98zM244.45 373.03h0.98v9.77h-0.98zM245.43 362.80h0.98v20.00h-0.98zM246.42 372.55h0.98v10.25h-0.98zM247.40 369.88h0.98v12.92h-0.98zM248.38 375.22h0.98v7.58h-0.98zM249.37 367.36h0.98v15.44h-0.98zM250.35 367.14h0.98v15.66h-0.98zM251.33 369.14h0.98v13.66h-0.98zM252.32 375.75h0.98v7.05h-0.98zM253.30 369.55h0.98v13.25h-0.98zM254.28 372.87h0.98v9.93h-0.98zM255.27 368.88h0.98v13.92h-0.98zM257.75 361.45h0.99v21.35h-0.99zM258.74 354.50h0.99v28.30h-0.99zM259.73 367.73h0.99v15.07h-0.99zM260.71 365.10h0.99v17.70h-0.99zM261.70 367.69h0.99v15.11h-0.99zM262.69 368.11h0.99v14.69h-0.99zM266.64 378.57h0.99v4.23h-0.99zM267.62 380.46h0.99v2.34h-0.99zM268.61 375.77h0.99v7.03h-0.99zM269.60 376.51h0.99v6.29h-0.99zM270.59 375.15h0.99v7.65h-0.99zM271.57 375.18h0.99v7.62h-0.99zM272.56 375.00h0.99v7.80h-0.99zM273.55 372.80h0.99v10.00h-0.99zM274.54 379.25h0.99v3.55h-0.99zM275.52 376.71h0.99v6.09h-0.99zM276.51 376.52h0.99v6.28h-0.99zM279.40 378.49h0.98v4.31h-0.98zM280.38 374.11h0.98v8.69h-0.98zM281.37 377.88h0.98v4.92h-0.98zM282.35 373.08h0.98v9.72h-0.98zM283.34 367.80h0.98v15.00h-0.98zM284.32 373.89h0.98v8.91h-0.98zM285.31 375.96h0.98v6.84h-0.98zM286.29 371.30h0.98v11.50h-0.98zM287.27 369.69h0.98v13.11h-0.98zM288.26 375.43h0.98v7.37h-0.98zM289.24 368.80h0.98v14.00h-0.98zM290.23 373.74h0.98v9.06h-0.98zM291.21 372.30h0.98v10.50h-0.98zM292.19 373.49h0.98v9.31h-0.98zM293.18 372.10h0.98v10.70h-0.98zM294.16 374.38h0.98v8.42h-0.98zM295.15 374.70h0.98v8.10h-0.98zM296.13 372.61h0.98v10.19h-0.98zM297.12 371.71h0.98v11.09h-0.98zM300.00 375.94h0.99v6.86h-0.99zM300.99 374.29h0.99v8.51h-0.99zM301.97 369.50h0.99v13.30h-0.99zM302.96 375.05h0.99v7.75h-0.99zM303.95 362.80h0.99v20.00h-0.99zM304.93 362.51h0.99v20.29h-0.99zM305.92 369.36h0.99v13.44h-0.99zM306.91 364.80h0.99v18.00h-0.99zM307.89 367.84h0.99v14.96h-0.99zM308.88 371.14h0.99v11.66h-0.99zM309.87 368.38h0.99v14.42h-0.99zM310.86 373.16h0.99v9.64h-0.99zM311.84 365.81h0.99v16.99h-0.99zM312.83 375.81h0.99v6.99h-0.99zM313.82 372.85h0.99v9.95h-0.99zM314.80 375.98h0.99v6.82h-0.99zM315.79 372.86h0.99v9.94h-0.99zM316.78 370.90h0.99v11.90h-0.99zM317.76 367.86h0.99v14.94h-0.99zM320.00 375.55h1.00v7.25h-1.00zM321.00 375.56h1.00v7.24h-1.00zM322.00 372.52h1.00v10.28h-1.00zM323.00 366.76h1.00v16.04h-1.00zM324.00 373.74h1.00v9.06h-1.00zM325.00 368.87h1.00v13.93h-1.00zM326.00 365.80h1.00v17.00h-1.00zM327.00 364.84h1.00v17.96h-1.00zM328.00 374.44h1.00v8.36h-1.00zM329.00 368.72h1.00v14.08h-1.00zM330.00 371.60h1.00v11.20h-1.00zM331.00 359.50h1.00v23.30h-1.00zM332.00 374.62h1.00v8.18h-1.00zM333.00 369.34h1.00v13.46h-1.00zM334.00 375.97h1.00v6.83h-1.00zM335.00 375.85h1.00v6.95h-1.00zM336.00 370.33h1.00v12.47h-1.00zM337.00 367.61h1.00v15.19h-1.00zM338.00 373.55h1.00v9.25h-1.00zM340.60 371.70h0.98v11.10h-0.98zM341.58 369.08h0.98v13.72h-0.98zM342.56 367.99h0.98v14.81h-0.98zM343.53 373.13h0.98v9.67h-0.98zM344.51 375.21h0.98v7.59h-0.98zM345.49 362.80h0.98v20.00h-0.98zM346.47 367.78h0.98v15.02h-0.98zM347.45 369.27h0.98v13.53h-0.98zM348.43 369.20h0.98v13.60h-0.98zM349.40 368.66h0.98v14.14h-0.98zM350.38 364.50h0.98v18.30h-0.98zM351.36 355.00h0.98v27.80h-0.98zM352.34 367.00h0.98v15.80h-0.98zM353.32 372.84h0.98v9.96h-0.98zM354.29 371.96h0.98v10.84h-0.98zM355.27 367.70h0.98v15.10h-0.98zM358.10 374.10h0.98v8.70h-0.98zM359.08 373.37h0.98v9.43h-0.98zM360.06 373.51h0.98v9.29h-0.98zM361.03 371.40h0.98v11.40h-0.98zM362.01 372.74h0.98v10.06h-0.98zM362.99 373.24h0.98v9.56h-0.98zM363.97 357.50h0.98v25.30h-0.98zM364.95 376.46h0.98v6.34h-0.98zM365.93 376.42h0.98v6.38h-0.98zM366.90 375.63h0.98v7.17h-0.98zM367.88 374.39h0.98v8.41h-0.98zM368.86 367.80h0.98v15.00h-0.98zM369.84 372.64h0.98v10.16h-0.98zM370.82 374.80h0.98v8.00h-0.98zM371.79 377.85h0.98v4.95h-0.98zM372.77 376.54h0.98v6.26h-0.98zM375.60 375.99h1.03v6.81h-1.03zM376.63 374.57h1.03v8.23h-1.03zM377.66 378.92h1.03v3.88h-1.03zM378.69 372.80h1.03v10.00h-1.03zM379.71 378.07h1.03v4.73h-1.03zM380.74 379.40h1.03v3.40h-1.03zM381.77 375.75h1.03v7.05h-1.03zM382.80 374.10h1.03v8.70h-1.03zM383.83 378.52h1.03v4.28h-1.03zM384.86 375.62h1.03v7.18h-1.03zM385.89 377.87h1.03v4.93h-1.03zM386.91 375.01h1.03v7.79h-1.03zM387.94 372.80h1.03v10.00h-1.03zM388.97 378.23h1.03v4.57h-1.03zM391.90 377.90h1.01v4.90h-1.01zM392.91 379.08h1.01v3.72h-1.01zM393.92 376.69h1.01v6.11h-1.01zM394.92 370.80h1.01v12.00h-1.01zM395.93 378.96h1.01v3.84h-1.01zM396.94 379.31h1.01v3.49h-1.01zM397.95 378.87h1.01v3.93h-1.01zM398.96 369.80h1.01v13.00h-1.01zM399.97 378.18h1.01v4.62h-1.01zM400.98 378.45h1.01v4.35h-1.01zM401.98 379.78h1.01v3.02h-1.01zM402.99 380.33h1.01v2.47h-1.01zM406.25 379.47h0.99v3.33h-0.99zM407.24 372.80h0.99v10.00h-0.99zM408.23 380.28h0.99v2.52h-0.99zM409.21 380.29h0.99v2.51h-0.99zM410.20 379.97h0.99v2.83h-0.99zM411.19 379.23h0.99v3.57h-0.99zM412.18 380.34h0.99v2.46h-0.99zM413.16 378.80h0.99v4.00h-0.99zM414.15 377.71h0.99v5.09h-0.99zM415.14 377.79h0.99v5.01h-0.99zM416.12 380.63h0.99v2.17h-0.99zM417.11 379.15h0.99v3.65h-0.99zM420.00 374.76h0.96v8.04h-0.96zM420.96 370.94h0.96v11.86h-0.96zM421.92 374.71h0.96v8.09h-0.96zM422.88 370.60h0.96v12.20h-0.96zM423.83 367.84h0.96v14.96h-0.96zM424.79 369.64h0.96v13.16h-0.96zM425.75 364.80h0.96v18.00h-0.96zM426.71 367.46h0.96v15.34h-0.96zM427.67 374.44h0.96v8.36h-0.96zM428.62 369.79h0.96v13.01h-0.96zM429.58 375.74h0.96v7.06h-0.96zM430.54 374.02h0.96v8.78h-0.96zM432.75 379.90h1.06v2.90h-1.06zM433.81 380.41h1.06v2.39h-1.06zM434.88 372.80h1.06v10.00h-1.06zM435.94 379.48h1.06v3.32h-1.06zM437.00 379.31h1.06v3.49h-1.06zM438.06 378.39h1.06v4.41h-1.06zM439.12 379.39h1.06v3.41h-1.06zM440.19 379.38h1.06v3.42h-1.06zM443.10 372.80h0.96v10.00h-0.96zM444.06 379.36h0.96v3.44h-0.96zM445.03 379.50h0.96v3.30h-0.96zM446.00 379.11h0.96v3.69h-0.96zM446.96 377.51h0.96v5.29h-0.96zM447.93 380.07h0.96v2.73h-0.96zM448.89 380.48h0.96v2.32h-0.96zM449.86 374.80h0.96v8.00h-0.96zM450.82 378.00h0.96v4.80h-0.96zM451.79 379.16h0.96v3.64h-0.96zM454.40 379.30h0.98v3.50h-0.98zM455.38 380.70h0.98v2.10h-0.98zM456.36 350.00h0.98v32.80h-0.98zM457.34 362.80h0.98v20.00h-0.98zM458.31 379.47h0.98v3.33h-0.98zM459.29 380.48h0.98v2.32h-0.98zM460.27 380.27h0.98v2.53h-0.98zM463.10 378.65h1.02v4.15h-1.02zM464.12 379.68h1.02v3.12h-1.02zM465.14 379.04h1.02v3.76h-1.02zM466.16 371.80h1.02v11.00h-1.02zM467.18 380.48h1.02v2.32h-1.02zM468.19 372.80h1.02v10.00h-1.02zM469.21 379.80h1.02v3.00h-1.02zM470.23 379.46h1.02v3.34h-1.02zM472.75 372.20h1.00v10.60h-1.00zM473.75 374.27h1.00v8.53h-1.00zM474.75 371.34h1.00v11.46h-1.00zM475.75 357.50h1.00v25.30h-1.00zM476.75 372.98h1.00v9.82h-1.00zM477.75 375.42h1.00v7.38h-1.00zM478.75 377.95h1.00v4.85h-1.00zM479.75 367.80h1.00v15.00h-1.00zM480.75 377.73h1.00v5.07h-1.00zM481.75 374.25h1.00v8.55h-1.00zM482.75 370.14h1.00v12.66h-1.00zM483.75 360.00h1.00v22.80h-1.00zM484.75 377.74h1.00v5.06h-1.00zM485.75 375.76h1.00v7.04h-1.00zM486.75 372.74h1.00v10.06h-1.00zM487.75 366.80h1.00v16.00h-1.00zM488.75 371.20h1.00v11.60h-1.00zM489.75 377.71h1.00v5.09h-1.00zM490.75 364.80h1.00v18.00h-1.00zM491.75 373.62h1.00v9.18h-1.00zM492.75 376.94h1.00v5.86h-1.00zM495.60 382.18h0.98v0.62h-0.98zM496.58 378.80h0.98v4.00h-0.98zM497.56 382.18h0.98v0.62h-0.98zM498.53 382.27h0.98v0.53h-0.98zM499.51 382.14h0.98v0.66h-0.98zM500.49 382.51h0.98v0.29h-0.98zM501.47 382.43h0.98v0.37h-0.98zM502.44 382.10h0.98v0.70h-0.98zM503.42 382.19h0.98v0.61h-0.98z" fill="#262626"/>
<rect x="33.00" y="382.80" width="33.75" height="9.9" fill="#9c9c9c"/>
<rect x="33.00" y="386.95" width="33.75" height="2.0" fill="#444444"/>
<text x="49.88" y="398.90" class="cl">1</text>
<rect x="68.60" y="382.80" width="32.90" height="9.9" fill="#9c9c9c"/>
<rect x="68.60" y="386.95" width="32.90" height="2.0" fill="#444444"/>
<text x="85.05" y="398.90" class="cl">2</text>
<rect x="103.50" y="382.80" width="27.10" height="9.9" fill="#9c9c9c"/>
<rect x="103.50" y="386.95" width="27.10" height="2.0" fill="#444444"/>
<text x="117.05" y="398.90" class="cl">3</text>
<rect x="132.25" y="382.80" width="26.25" height="9.9" fill="#9c9c9c"/>
<rect x="132.25" y="386.95" width="26.25" height="2.0" fill="#444444"/>
<text x="145.38" y="398.90" class="cl">4</text>
<rect x="160.00" y="382.80" width="25.00" height="9.9" fill="#9c9c9c"/>
<rect x="160.00" y="386.95" width="25.00" height="2.0" fill="#444444"/>
<text x="172.50" y="398.90" class="cl">5</text>
<rect x="186.90" y="382.80" width="23.35" height="9.9" fill="#9c9c9c"/>
<rect x="186.90" y="386.95" width="23.35" height="2.0" fill="#444444"/>
<text x="198.57" y="398.90" class="cl">6</text>
<rect x="211.90" y="382.80" width="21.60" height="9.9" fill="#9c9c9c"/>
<rect x="211.90" y="386.95" width="21.60" height="2.0" fill="#444444"/>
<text x="222.70" y="398.90" class="cl">7</text>
<rect x="235.60" y="382.80" width="20.65" height="9.9" fill="#9c9c9c"/>
<rect x="235.60" y="386.95" width="20.65" height="2.0" fill="#444444"/>
<text x="245.93" y="398.90" class="cl">8</text>
<rect x="257.75" y="382.80" width="19.75" height="9.9" fill="#9c9c9c"/>
<rect x="257.75" y="386.95" width="19.75" height="2.0" fill="#444444"/>
<text x="267.62" y="398.90" class="cl">9</text>
<rect x="279.40" y="382.80" width="18.70" height="9.9" fill="#9c9c9c"/>
<rect x="279.40" y="386.95" width="18.70" height="2.0" fill="#444444"/>
<text x="288.75" y="398.90" class="cl">10</text>
<rect x="300.00" y="382.80" width="18.75" height="9.9" fill="#9c9c9c"/>
<rect x="300.00" y="386.95" width="18.75" height="2.0" fill="#444444"/>
<text x="309.38" y="398.90" class="cl">11</text>
<rect x="320.00" y="382.80" width="19.00" height="9.9" fill="#9c9c9c"/>
<rect x="320.00" y="386.95" width="19.00" height="2.0" fill="#444444"/>
<text x="329.50" y="398.90" class="cl">12</text>
<rect x="340.60" y="382.80" width="15.65" height="9.9" fill="#9c9c9c"/>
<rect x="340.60" y="386.95" width="15.65" height="2.0" fill="#444444"/>
<text x="348.43" y="398.90" class="cl">13</text>
<rect x="358.10" y="382.80" width="15.65" height="9.9" fill="#9c9c9c"/>
<rect x="358.10" y="386.95" width="15.65" height="2.0" fill="#444444"/>
<text x="365.93" y="398.90" class="cl">14</text>
<rect x="375.60" y="382.80" width="14.40" height="9.9" fill="#9c9c9c"/>
<rect x="375.60" y="386.95" width="14.40" height="2.0" fill="#444444"/>
<text x="382.80" y="398.90" class="cl">15</text>
<rect x="391.90" y="382.80" width="12.10" height="9.9" fill="#9c9c9c"/>
<rect x="391.90" y="386.95" width="12.10" height="2.0" fill="#444444"/>
<text x="397.95" y="398.90" class="cl">16</text>
<rect x="406.25" y="382.80" width="11.85" height="9.9" fill="#9c9c9c"/>
<rect x="406.25" y="386.95" width="11.85" height="2.0" fill="#444444"/>
<text x="412.18" y="398.90" class="cl">17</text>
<rect x="420.00" y="382.80" width="11.50" height="9.9" fill="#9c9c9c"/>
<rect x="420.00" y="386.95" width="11.50" height="2.0" fill="#444444"/>
<text x="425.75" y="398.90" class="cl">18</text>
<rect x="432.75" y="382.80" width="8.50" height="9.9" fill="#9c9c9c"/>
<rect x="432.75" y="386.95" width="8.50" height="2.0" fill="#444444"/>
<text x="437.00" y="398.90" class="cl">19</text>
<rect x="443.10" y="382.80" width="9.65" height="9.9" fill="#9c9c9c"/>
<rect x="443.10" y="386.95" width="9.65" height="2.0" fill="#444444"/>
<text x="447.93" y="398.90" class="cl">20</text>
<rect x="454.40" y="382.80" width="6.85" height="9.9" fill="#9c9c9c"/>
<rect x="454.40" y="386.95" width="6.85" height="2.0" fill="#444444"/>
<text x="457.82" y="398.90" class="cl">21</text>
<rect x="463.10" y="382.80" width="8.15" height="9.9" fill="#9c9c9c"/>
<rect x="463.10" y="386.95" width="8.15" height="2.0" fill="#444444"/>
<text x="467.18" y="398.90" class="cl">22</text>
<rect x="472.75" y="382.80" width="21.00" height="9.9" fill="#9c9c9c"/>
<rect x="472.75" y="386.95" width="21.00" height="2.0" fill="#444444"/>
<text x="483.25" y="398.90" class="cl">X</text>
<rect x="495.60" y="382.80" width="8.80" height="9.9" fill="#9c9c9c"/>
<rect x="495.60" y="386.95" width="8.80" height="2.0" fill="#444444"/>
<text x="500.00" y="398.90" class="cl">Y</text>
<path d="M508.0 327.35V383.10" stroke="#2a2a2a" stroke-width="1.15" fill="none"/>
<path d="M508.0 383.10h3.8M508.0 371.95h3.8M508.0 360.80h3.8M508.0 349.65h3.8M508.0 338.50h3.8M508.0 327.35h3.8" stroke="#333" stroke-width="1" fill="none"/>
<text transform="translate(519.0 383.10) rotate(-90)" class="al">0</text>
<text transform="translate(519.0 371.95) rotate(-90)" class="al">10</text>
<text transform="translate(519.0 349.65) rotate(-90)" class="al">30</text>
<text transform="translate(519.0 327.35) rotate(-90)" class="al">50</text>
<text transform="translate(30.8 369.50) rotate(-90)" class="pl">Patient 5</text>
<text x="279.3" y="410.8" class="xl">Chromosome</text>
<text x="0.4" y="421.9" class="big">B</text>
<path d="M84.80 488.81L138.21 485.64A53.50 53.50 0 0 1 138.19 492.17Z" fill="url(#g_lav)" stroke="#9890b0" stroke-width="0.7" stroke-opacity="0.55" stroke-linejoin="round"/>
<path d="M75.90 493.32L129.29 496.68A53.50 53.50 0 1 1 56.38 443.51Z" fill="url(#g_blue)" stroke="#2c4475" stroke-width="0.7" stroke-opacity="0.55" stroke-linejoin="round"/>
<path d="M81.85 483.87L62.33 434.06A53.50 53.50 0 0 1 134.19 472.75Z" fill="url(#g_red)" stroke="#6e2420" stroke-width="0.7" stroke-opacity="0.55" stroke-linejoin="round"/>
<path d="M84.75 488.05L137.08 476.93A53.50 53.50 0 0 1 138.16 484.88Z" fill="url(#g_green)" stroke="#6a8a2a" stroke-width="0.7" stroke-opacity="0.55" stroke-linejoin="round"/>
<path d="M211.39 492.12L248.76 495.26A37.50 37.50 0 0 1 182.41 515.92Z" fill="url(#g_purple)" stroke="#443264" stroke-width="0.7" stroke-opacity="0.55" stroke-linejoin="round"/>
<path d="M206.22 487.87L177.25 511.67A37.50 37.50 0 0 1 183.03 458.40Z" fill="url(#g_teal)" stroke="#3c6a85" stroke-width="0.7" stroke-opacity="0.55" stroke-linejoin="round"/>
<path d="M210.45 484.31L187.26 454.84A37.50 37.50 0 0 1 237.20 458.02Z" fill="url(#g_orange)" stroke="#a0621e" stroke-width="0.7" stroke-opacity="0.55" stroke-linejoin="round"/>
<path d="M213.87 486.71L240.62 460.42A37.50 37.50 0 0 1 251.33 485.07Z" fill="url(#g_syn)" stroke="#6a789e" stroke-width="0.7" stroke-opacity="0.55" stroke-linejoin="round"/>
<path d="M214.20 488.35L251.66 486.71A37.50 37.50 0 0 1 251.62 490.83Z" fill="url(#g_stop)" stroke="#9a6a6a" stroke-width="0.7" stroke-opacity="0.55" stroke-linejoin="round"/>
<path d="M214.19 488.60L251.61 491.09A37.50 37.50 0 0 1 251.56 491.74Z" fill="url(#g_splice)" stroke="#98a070" stroke-width="0.7" stroke-opacity="0.55" stroke-linejoin="round"/>
<path d="M138.21 485.64L188.00 455.39M138.19 492.17L188.00 521.21" stroke="#5a5a5a" stroke-width="0.9" fill="none"/>
<text x="138.20" y="433.50" class="pt">Patient 1</text>
<path d="M329.70 488.00L383.02 483.62A53.50 53.50 0 0 1 383.02 492.38Z" fill="url(#g_lav)" stroke="#9890b0" stroke-width="0.7" stroke-opacity="0.55" stroke-linejoin="round"/>
<path d="M321.33 492.87L374.65 497.25A53.50 53.50 0 1 1 290.27 449.31Z" fill="url(#g_blue)" stroke="#2c4475" stroke-width="0.7" stroke-opacity="0.55" stroke-linejoin="round"/>
<path d="M326.13 482.78L295.06 439.22A53.50 53.50 0 0 1 378.44 471.56Z" fill="url(#g_red)" stroke="#6e2420" stroke-width="0.7" stroke-opacity="0.55" stroke-linejoin="round"/>
<path d="M329.64 487.18L381.95 475.97A53.50 53.50 0 0 1 382.96 482.80Z" fill="url(#g_green)" stroke="#6a8a2a" stroke-width="0.7" stroke-opacity="0.55" stroke-linejoin="round"/>
<path d="M455.60 491.25L492.91 495.04A37.50 37.50 0 0 1 425.93 514.18Z" fill="url(#g_purple)" stroke="#443264" stroke-width="0.7" stroke-opacity="0.55" stroke-linejoin="round"/>
<path d="M450.70 486.15L421.03 509.08A37.50 37.50 0 0 1 440.49 450.06Z" fill="url(#g_teal)" stroke="#3c6a85" stroke-width="0.7" stroke-opacity="0.55" stroke-linejoin="round"/>
<path d="M455.72 483.59L445.51 447.51A37.50 37.50 0 0 1 484.99 460.14Z" fill="url(#g_orange)" stroke="#a0621e" stroke-width="0.7" stroke-opacity="0.55" stroke-linejoin="round"/>
<path d="M458.27 486.07L487.54 462.63A37.50 37.50 0 0 1 495.77 486.07Z" fill="url(#g_syn)" stroke="#6a789e" stroke-width="0.7" stroke-opacity="0.55" stroke-linejoin="round"/>
<path d="M458.50 487.52L496.00 487.52A37.50 37.50 0 0 1 495.93 489.81Z" fill="url(#g_stop)" stroke="#9a6a6a" stroke-width="0.7" stroke-opacity="0.55" stroke-linejoin="round"/>
<path d="M458.49 487.72L495.92 490.01A37.50 37.50 0 0 1 495.79 491.51Z" fill="url(#g_splice)" stroke="#98a070" stroke-width="0.7" stroke-opacity="0.55" stroke-linejoin="round"/>
<path d="M383.02 483.62L432.30 454.49M383.02 492.38L432.30 520.31" stroke="#5a5a5a" stroke-width="0.9" fill="none"/>
<text x="384.60" y="433.20" class="pt">Patient 2</text>
<path d="M85.10 620.50L138.49 617.05A53.50 53.50 0 0 1 138.49 623.95Z" fill="url(#g_lav)" stroke="#9890b0" stroke-width="0.7" stroke-opacity="0.55" stroke-linejoin="round"/>
<path d="M76.64 625.32L130.03 628.77A53.50 53.50 0 1 1 48.05 580.09Z" fill="url(#g_blue)" stroke="#2c4475" stroke-width="0.7" stroke-opacity="0.55" stroke-linejoin="round"/>
<path d="M81.69 615.35L53.10 570.12A53.50 53.50 0 0 1 134.08 604.50Z" fill="url(#g_red)" stroke="#6e2420" stroke-width="0.7" stroke-opacity="0.55" stroke-linejoin="round"/>
<path d="M85.05 619.75L137.44 608.90A53.50 53.50 0 0 1 138.44 616.30Z" fill="url(#g_green)" stroke="#6a8a2a" stroke-width="0.7" stroke-opacity="0.55" stroke-linejoin="round"/>
<path d="M209.35 625.00L246.80 626.96A37.50 37.50 0 0 1 171.97 627.94Z" fill="url(#g_purple)" stroke="#443264" stroke-width="0.7" stroke-opacity="0.55" stroke-linejoin="round"/>
<path d="M205.96 618.80L168.57 621.74A37.50 37.50 0 0 1 193.87 583.30Z" fill="url(#g_teal)" stroke="#3c6a85" stroke-width="0.7" stroke-opacity="0.55" stroke-linejoin="round"/>
<path d="M210.38 617.15L198.29 581.65A37.50 37.50 0 0 1 239.10 593.04Z" fill="url(#g_orange)" stroke="#a0621e" stroke-width="0.7" stroke-opacity="0.55" stroke-linejoin="round"/>
<path d="M213.08 619.68L241.80 595.58A37.50 37.50 0 0 1 250.56 620.66Z" fill="url(#g_syn)" stroke="#6a789e" stroke-width="0.7" stroke-opacity="0.55" stroke-linejoin="round"/>
<path d="M213.30 621.13L250.78 622.11A37.50 37.50 0 0 1 250.77 622.64Z" fill="url(#g_stop)" stroke="#9a6a6a" stroke-width="0.7" stroke-opacity="0.55" stroke-linejoin="round"/>
<path d="M213.30 621.18L250.77 622.69A37.50 37.50 0 0 1 250.74 623.15Z" fill="url(#g_splice)" stroke="#98a070" stroke-width="0.7" stroke-opacity="0.55" stroke-linejoin="round"/>
<path d="M138.49 617.05L187.10 588.09M138.49 623.95L187.10 653.91" stroke="#5a5a5a" stroke-width="0.9" fill="none"/>
<text x="138.50" y="566.60" class="pt">Patient 3</text>
<path d="M331.90 621.02L385.27 617.29A53.50 53.50 0 0 1 385.24 625.22Z" fill="url(#g_lav)" stroke="#9890b0" stroke-width="0.7" stroke-opacity="0.55" stroke-linejoin="round"/>
<path d="M323.29 625.72L376.62 629.92A53.50 53.50 0 1 1 297.02 579.11Z" fill="url(#g_blue)" stroke="#2c4475" stroke-width="0.7" stroke-opacity="0.55" stroke-linejoin="round"/>
<path d="M328.62 615.90L302.35 569.29A53.50 53.50 0 0 1 381.01 605.05Z" fill="url(#g_red)" stroke="#6e2420" stroke-width="0.7" stroke-opacity="0.55" stroke-linejoin="round"/>
<path d="M331.85 620.24L384.24 609.39A53.50 53.50 0 0 1 385.22 616.50Z" fill="url(#g_green)" stroke="#6a8a2a" stroke-width="0.7" stroke-opacity="0.55" stroke-linejoin="round"/>
<path d="M455.78 625.00L493.08 628.92A37.50 37.50 0 0 1 419.01 632.34Z" fill="url(#g_purple)" stroke="#443264" stroke-width="0.7" stroke-opacity="0.55" stroke-linejoin="round"/>
<path d="M452.16 618.96L415.39 626.31A37.50 37.50 0 0 1 441.01 583.15Z" fill="url(#g_teal)" stroke="#3c6a85" stroke-width="0.7" stroke-opacity="0.55" stroke-linejoin="round"/>
<path d="M457.17 617.32L446.01 581.52A37.50 37.50 0 0 1 490.70 600.53Z" fill="url(#g_orange)" stroke="#a0621e" stroke-width="0.7" stroke-opacity="0.55" stroke-linejoin="round"/>
<path d="M459.47 619.98L493.00 603.19A37.50 37.50 0 0 1 496.92 618.02Z" fill="url(#g_syn)" stroke="#6a789e" stroke-width="0.7" stroke-opacity="0.55" stroke-linejoin="round"/>
<path d="M459.60 620.95L497.05 618.99A37.50 37.50 0 0 1 497.09 621.93Z" fill="url(#g_stop)" stroke="#9a6a6a" stroke-width="0.7" stroke-opacity="0.55" stroke-linejoin="round"/>
<path d="M459.59 621.26L497.08 622.24A37.50 37.50 0 0 1 496.89 625.18Z" fill="url(#g_splice)" stroke="#98a070" stroke-width="0.7" stroke-opacity="0.55" stroke-linejoin="round"/>
<path d="M385.27 617.29L433.40 588.09M385.24 625.22L433.40 653.91" stroke="#5a5a5a" stroke-width="0.9" fill="none"/>
<text x="385.10" y="565.70" class="pt">Patient 4</text>
<path d="M83.60 756.30L137.06 754.20A53.50 53.50 0 0 1 137.06 758.40Z" fill="url(#g_lav)" stroke="#9890b0" stroke-width="0.7" stroke-opacity="0.55" stroke-linejoin="round"/>
<path d="M74.50 760.67L127.96 762.77A53.50 53.50 0 1 1 60.83 708.94Z" fill="url(#g_blue)" stroke="#2c4475" stroke-width="0.7" stroke-opacity="0.55" stroke-linejoin="round"/>
<path d="M80.98 751.56L67.31 699.83A53.50 53.50 0 0 1 133.49 741.35Z" fill="url(#g_red)" stroke="#6e2420" stroke-width="0.7" stroke-opacity="0.55" stroke-linejoin="round"/>
<path d="M83.56 755.65L136.08 745.45A53.50 53.50 0 0 1 137.02 753.55Z" fill="url(#g_green)" stroke="#6a8a2a" stroke-width="0.7" stroke-opacity="0.55" stroke-linejoin="round"/>
<path d="M210.54 759.79L248.00 761.69A37.50 37.50 0 0 1 185.60 787.79Z" fill="url(#g_purple)" stroke="#443264" stroke-width="0.7" stroke-opacity="0.55" stroke-linejoin="round"/>
<path d="M205.01 755.86L180.06 783.86A37.50 37.50 0 0 1 183.61 725.07Z" fill="url(#g_teal)" stroke="#3c6a85" stroke-width="0.7" stroke-opacity="0.55" stroke-linejoin="round"/>
<path d="M209.53 752.14L188.13 721.34A37.50 37.50 0 0 1 238.26 728.03Z" fill="url(#g_orange)" stroke="#a0621e" stroke-width="0.7" stroke-opacity="0.55" stroke-linejoin="round"/>
<path d="M212.73 754.66L241.46 730.55A37.50 37.50 0 0 1 250.20 753.15Z" fill="url(#g_syn)" stroke="#6a789e" stroke-width="0.7" stroke-opacity="0.55" stroke-linejoin="round"/>
<path d="M213.00 756.08L250.47 754.58A37.50 37.50 0 0 1 250.48 757.26Z" fill="url(#g_stop)" stroke="#9a6a6a" stroke-width="0.7" stroke-opacity="0.55" stroke-linejoin="round"/>
<path d="M213.00 756.26L250.48 757.44A37.50 37.50 0 0 1 250.45 758.16Z" fill="url(#g_splice)" stroke="#98a070" stroke-width="0.7" stroke-opacity="0.55" stroke-linejoin="round"/>
<path d="M137.06 754.20L186.80 723.19M137.06 758.40L186.80 789.01" stroke="#5a5a5a" stroke-width="0.9" fill="none"/>
<text x="139.20" y="701.50" class="pt">Patient 5</text>
<rect x="311.8" y="710.85" width="5.8" height="5.3" fill="#4a5a8e"/>
<text x="320" y="717.20" class="lg">intergenic</text>
<rect x="311.8" y="725.15" width="5.8" height="5.3" fill="#8e3438"/>
<text x="320" y="731.50" class="lg">intronic</text>
<rect x="311.8" y="739.45" width="5.8" height="5.3" fill="#8a9c58"/>
<text x="320" y="745.80" class="lg">ncRNA</text>
<rect x="387.2" y="711.15" width="5.8" height="5.3" fill="#574a84"/>
<text x="395.8" y="717.50" class="lg">up/downstream</text>
<rect x="387.2" y="725.45" width="5.8" height="5.3" fill="#4a8099"/>
<text x="395.8" y="731.80" class="lg">UTR</text>
<rect x="387.2" y="739.75" width="5.8" height="5.3" fill="#b08040"/>
<text x="395.8" y="746.10" class="lg">nonsynonymous</text>
<rect x="387.2" y="754.05" width="5.8" height="5.3" fill="#8f98ba"/>
<text x="395.8" y="760.40" class="lg">synonymous</text>
<rect x="387.2" y="768.35" width="5.8" height="5.3" fill="#b48890"/>
<text x="395.8" y="774.70" class="lg">stopgain</text>
<rect x="387.2" y="782.65" width="5.8" height="5.3" fill="#a9b288"/>
<text x="395.8" y="789.00" class="lg">splicing</text>
</svg></body></html>
